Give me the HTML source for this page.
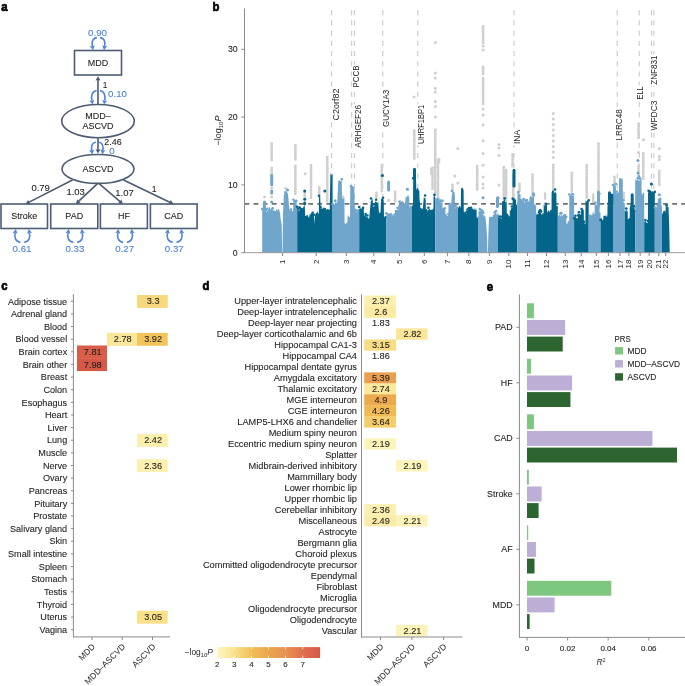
<!DOCTYPE html>
<html><head><meta charset="utf-8"><style>
html,body{margin:0;padding:0;background:#fff;}
svg{display:block;font-family:"Liberation Sans", sans-serif;will-change:transform;}
</style></head><body>
<svg width="685" height="686" viewBox="0 0 685 686">
<rect width="685" height="686" fill="#fff"/>
<text x="1.20" y="11.00" font-size="12.3" text-anchor="start" fill="#000" font-weight="bold" textLength="6.29" lengthAdjust="spacingAndGlyphs" stroke="#000" stroke-width="0.7">a</text>
<text x="212.60" y="11.00" font-size="12.3" text-anchor="start" fill="#000" font-weight="bold" textLength="6.91" lengthAdjust="spacingAndGlyphs" stroke="#000" stroke-width="0.7">b</text>
<text x="1.20" y="290.20" font-size="12.3" text-anchor="start" fill="#000" font-weight="bold" textLength="6.29" lengthAdjust="spacingAndGlyphs" stroke="#000" stroke-width="0.7">c</text>
<text x="202.50" y="290.20" font-size="12.3" text-anchor="start" fill="#000" font-weight="bold" textLength="6.91" lengthAdjust="spacingAndGlyphs" stroke="#000" stroke-width="0.7">d</text>
<text x="486.80" y="291.00" font-size="12.3" text-anchor="start" fill="#000" font-weight="bold" textLength="6.29" lengthAdjust="spacingAndGlyphs" stroke="#000" stroke-width="0.7">e</text>
<rect x="74.5" y="50.5" width="47.0" height="24.5" fill="#fff" stroke="#4d5b73" stroke-width="1.6"/>
<text x="98.00" y="65.85" font-size="8.7" text-anchor="middle" fill="#231f20" font-weight="normal" textLength="20.41" lengthAdjust="spacingAndGlyphs"  stroke="#231f20" stroke-width="0.1">MDD</text>
<path d="M96.90,37.60 C92.90,37.80 91.40,41.97 92.40,46.43" fill="none" stroke="#4f84d6" stroke-width="1.6"/>
<path d="M93.00,50.20 L89.81,46.05 L92.39,46.34 L94.75,45.27 Z" fill="#4f84d6"/>
<path d="M100.10,37.60 C104.10,37.80 105.60,41.97 104.60,46.43" fill="none" stroke="#4f84d6" stroke-width="1.6"/>
<path d="M104.00,50.20 L102.25,45.27 L104.61,46.34 L107.19,46.05 Z" fill="#4f84d6"/>
<text x="97.50" y="35.90" font-size="8.5" text-anchor="middle" fill="#4f84d6" font-weight="normal" textLength="18.86" lengthAdjust="spacingAndGlyphs"  stroke="#4f84d6" stroke-width="0.1">0.90</text>
<ellipse cx="98" cy="121.1" rx="36.3" ry="16.6" fill="#fff" stroke="#4d5b73" stroke-width="1.6"/>
<text x="98.00" y="119.30" font-size="8.7" text-anchor="middle" fill="#231f20" font-weight="normal" textLength="25.39" lengthAdjust="spacingAndGlyphs"  stroke="#231f20" stroke-width="0.1">MDD–</text>
<text x="98.00" y="128.90" font-size="8.7" text-anchor="middle" fill="#231f20" font-weight="normal" textLength="30.87" lengthAdjust="spacingAndGlyphs"  stroke="#231f20" stroke-width="0.1">ASCVD</text>
<line x1="98" y1="104.6" x2="98.00" y2="79.20" stroke="#4d5b73" stroke-width="1.6"/>
<path d="M98.00,76.20 L100.50,80.60 L98.00,79.94 L95.50,80.60 Z" fill="#4d5b73"/>
<text x="102.80" y="87.80" font-size="8.3" text-anchor="start" fill="#231f20" font-weight="normal"  stroke="#231f20" stroke-width="0.1">1</text>
<path d="M96.62,90.71 C92.42,90.93 90.84,95.52 91.89,100.43" fill="none" stroke="#4f84d6" stroke-width="1.6"/>
<path d="M92.52,104.58 L89.36,100.41 L91.94,100.72 L94.31,99.66 Z" fill="#4f84d6"/>
<path d="M99.98,90.71 C104.18,90.93 105.75,95.52 104.70,100.43" fill="none" stroke="#4f84d6" stroke-width="1.6"/>
<path d="M104.08,104.58 L102.29,99.66 L104.66,100.72 L107.24,100.41 Z" fill="#4f84d6"/>
<text x="108.10" y="97.10" font-size="8.5" text-anchor="start" fill="#4f84d6" font-weight="normal" textLength="18.86" lengthAdjust="spacingAndGlyphs"  stroke="#4f84d6" stroke-width="0.1">0.10</text>
<ellipse cx="98" cy="168.95" rx="36" ry="14.45" fill="#fff" stroke="#4d5b73" stroke-width="1.6"/>
<text x="98.00" y="171.90" font-size="8.7" text-anchor="middle" fill="#231f20" font-weight="normal" textLength="30.87" lengthAdjust="spacingAndGlyphs"  stroke="#231f20" stroke-width="0.1">ASCVD</text>
<line x1="98" y1="137.9" x2="98.00" y2="150.60" stroke="#4d5b73" stroke-width="1.6"/>
<path d="M98.00,153.60 L95.50,149.20 L98.00,149.86 L100.50,149.20 Z" fill="#4d5b73"/>
<text x="104.30" y="145.20" font-size="8.9" text-anchor="start" fill="#231f20" font-weight="normal"  stroke="#231f20" stroke-width="0.1">2.46</text>
<path d="M95.86,142.30 C92.26,142.49 90.91,146.49 91.81,150.78" fill="none" stroke="#4f84d6" stroke-width="1.6"/>
<path d="M92.35,154.41 L89.20,150.23 L91.77,150.54 L94.14,149.49 Z" fill="#4f84d6"/>
<path d="M98.74,142.30 C102.34,142.49 103.69,146.49 102.79,150.78" fill="none" stroke="#4f84d6" stroke-width="1.6"/>
<path d="M102.25,154.41 L100.46,149.49 L102.83,150.54 L105.40,150.23 Z" fill="#4f84d6"/>
<text x="109.20" y="153.90" font-size="8.5" text-anchor="start" fill="#4f84d6" font-weight="normal" textLength="5.39" lengthAdjust="spacingAndGlyphs"  stroke="#4f84d6" stroke-width="0.1">0</text>
<rect x="1" y="204" width="46.5" height="24.5" fill="#fff" stroke="#4d5b73" stroke-width="1.6"/>
<text x="24.25" y="219.35" font-size="8.7" text-anchor="middle" fill="#231f20" font-weight="normal" textLength="25.90" lengthAdjust="spacingAndGlyphs"  stroke="#231f20" stroke-width="0.1">Stroke</text>
<rect x="50.7" y="204" width="47.099999999999994" height="24.5" fill="#fff" stroke="#4d5b73" stroke-width="1.6"/>
<text x="74.25" y="219.35" font-size="8.7" text-anchor="middle" fill="#231f20" font-weight="normal" textLength="17.76" lengthAdjust="spacingAndGlyphs"  stroke="#231f20" stroke-width="0.1">PAD</text>
<rect x="100.4" y="204" width="47.0" height="24.5" fill="#fff" stroke="#4d5b73" stroke-width="1.6"/>
<text x="123.90" y="219.35" font-size="8.7" text-anchor="middle" fill="#231f20" font-weight="normal" textLength="11.95" lengthAdjust="spacingAndGlyphs"  stroke="#231f20" stroke-width="0.1">HF</text>
<rect x="150.4" y="204" width="46.69999999999999" height="24.5" fill="#fff" stroke="#4d5b73" stroke-width="1.6"/>
<text x="173.75" y="219.35" font-size="8.7" text-anchor="middle" fill="#231f20" font-weight="normal" textLength="18.92" lengthAdjust="spacingAndGlyphs"  stroke="#231f20" stroke-width="0.1">CAD</text>
<line x1="72.5" y1="180" x2="28.17" y2="202.64" stroke="#4d5b73" stroke-width="1.6"/>
<path d="M25.50,204.00 L28.28,199.77 L28.83,202.30 L30.56,204.23 Z" fill="#4d5b73"/>
<line x1="98" y1="183.2" x2="77.99" y2="201.95" stroke="#4d5b73" stroke-width="1.6"/>
<path d="M75.80,204.00 L77.30,199.17 L78.53,201.44 L80.72,202.82 Z" fill="#4d5b73"/>
<line x1="98.5" y1="183.2" x2="120.71" y2="202.06" stroke="#4d5b73" stroke-width="1.6"/>
<path d="M123.00,204.00 L118.03,203.06 L120.15,201.58 L121.26,199.25 Z" fill="#4d5b73"/>
<line x1="123.5" y1="180" x2="170.80" y2="202.70" stroke="#4d5b73" stroke-width="1.6"/>
<path d="M173.50,204.00 L168.45,204.35 L170.13,202.38 L170.62,199.84 Z" fill="#4d5b73"/>
<text x="31.40" y="190.60" font-size="8.6" text-anchor="start" fill="#231f20" font-weight="normal" textLength="18.41" lengthAdjust="spacingAndGlyphs"  stroke="#231f20" stroke-width="0.1">0.79</text>
<text x="66.40" y="194.70" font-size="8.6" text-anchor="start" fill="#231f20" font-weight="normal" textLength="18.41" lengthAdjust="spacingAndGlyphs"  stroke="#231f20" stroke-width="0.1">1.03</text>
<text x="115.30" y="195.70" font-size="8.6" text-anchor="start" fill="#231f20" font-weight="normal" textLength="18.41" lengthAdjust="spacingAndGlyphs"  stroke="#231f20" stroke-width="0.1">1.07</text>
<text x="151.80" y="191.80" font-size="8.6" text-anchor="start" fill="#231f20" font-weight="normal"  stroke="#231f20" stroke-width="0.1">1</text>
<path d="M20.43,242.20 C15.75,241.99 13.99,237.59 15.16,232.88" fill="none" stroke="#4f84d6" stroke-width="1.6"/>
<path d="M15.87,228.91 L17.53,233.87 L15.19,232.76 L12.60,233.00 Z" fill="#4f84d6"/>
<path d="M24.17,242.20 C28.85,241.99 30.61,237.59 29.44,232.88" fill="none" stroke="#4f84d6" stroke-width="1.6"/>
<path d="M28.73,228.91 L32.00,233.00 L29.41,232.76 L27.07,233.87 Z" fill="#4f84d6"/>
<text x="22.00" y="251.80" font-size="8.5" text-anchor="middle" fill="#4f84d6" font-weight="normal" textLength="18.86" lengthAdjust="spacingAndGlyphs"  stroke="#4f84d6" stroke-width="0.1">0.61</text>
<path d="M73.33,242.20 C68.65,241.99 66.89,237.59 68.06,232.88" fill="none" stroke="#4f84d6" stroke-width="1.6"/>
<path d="M68.77,228.91 L70.43,233.87 L68.09,232.76 L65.50,233.00 Z" fill="#4f84d6"/>
<path d="M77.07,242.20 C81.75,241.99 83.51,237.59 82.34,232.88" fill="none" stroke="#4f84d6" stroke-width="1.6"/>
<path d="M81.64,228.91 L84.90,233.00 L82.31,232.76 L79.97,233.87 Z" fill="#4f84d6"/>
<text x="74.90" y="251.80" font-size="8.5" text-anchor="middle" fill="#4f84d6" font-weight="normal" textLength="18.86" lengthAdjust="spacingAndGlyphs"  stroke="#4f84d6" stroke-width="0.1">0.33</text>
<path d="M123.13,242.20 C118.45,241.99 116.69,237.59 117.86,232.88" fill="none" stroke="#4f84d6" stroke-width="1.6"/>
<path d="M118.56,228.91 L120.23,233.87 L117.89,232.76 L115.30,233.00 Z" fill="#4f84d6"/>
<path d="M126.87,242.20 C131.55,241.99 133.31,237.59 132.14,232.88" fill="none" stroke="#4f84d6" stroke-width="1.6"/>
<path d="M131.44,228.91 L134.70,233.00 L132.11,232.76 L129.77,233.87 Z" fill="#4f84d6"/>
<text x="124.70" y="251.80" font-size="8.5" text-anchor="middle" fill="#4f84d6" font-weight="normal" textLength="18.86" lengthAdjust="spacingAndGlyphs"  stroke="#4f84d6" stroke-width="0.1">0.27</text>
<path d="M172.73,242.20 C168.05,241.99 166.29,237.59 167.46,232.88" fill="none" stroke="#4f84d6" stroke-width="1.6"/>
<path d="M168.16,228.91 L169.83,233.87 L167.49,232.76 L164.90,233.00 Z" fill="#4f84d6"/>
<path d="M176.47,242.20 C181.15,241.99 182.91,237.59 181.74,232.88" fill="none" stroke="#4f84d6" stroke-width="1.6"/>
<path d="M181.03,228.91 L184.30,233.00 L181.71,232.76 L179.37,233.87 Z" fill="#4f84d6"/>
<text x="174.30" y="251.80" font-size="8.5" text-anchor="middle" fill="#4f84d6" font-weight="normal" textLength="18.86" lengthAdjust="spacingAndGlyphs"  stroke="#4f84d6" stroke-width="0.1">0.37</text>
<line x1="331.6" y1="10.2" x2="331.6" y2="252" stroke="#c4c4c4" stroke-width="1" stroke-dasharray="5.1,5.1"/>
<line x1="351.7" y1="10.2" x2="351.7" y2="252" stroke="#c4c4c4" stroke-width="1" stroke-dasharray="5.1,5.1"/>
<line x1="354.4" y1="10.2" x2="354.4" y2="252" stroke="#c4c4c4" stroke-width="1" stroke-dasharray="5.1,5.1"/>
<line x1="382.8" y1="10.2" x2="382.8" y2="252" stroke="#c4c4c4" stroke-width="1" stroke-dasharray="5.1,5.1"/>
<line x1="417.8" y1="10.2" x2="417.8" y2="252" stroke="#c4c4c4" stroke-width="1" stroke-dasharray="5.1,5.1"/>
<line x1="514" y1="10.2" x2="514" y2="252" stroke="#c4c4c4" stroke-width="1" stroke-dasharray="5.1,5.1"/>
<line x1="617.2" y1="10.2" x2="617.2" y2="252" stroke="#c4c4c4" stroke-width="1" stroke-dasharray="5.1,5.1"/>
<line x1="639.2" y1="10.2" x2="639.2" y2="252" stroke="#c4c4c4" stroke-width="1" stroke-dasharray="5.1,5.1"/>
<line x1="651.6" y1="10.2" x2="651.6" y2="252" stroke="#c4c4c4" stroke-width="1" stroke-dasharray="5.1,5.1"/>
<line x1="653.9" y1="10.2" x2="653.9" y2="252" stroke="#c4c4c4" stroke-width="1" stroke-dasharray="5.1,5.1"/>
<line x1="244.5" y1="203.8" x2="685" y2="203.8" stroke="#707070" stroke-width="1.8" stroke-dasharray="4.8,4.3"/>
<line x1="264.5" y1="197" x2="264.5" y2="199" stroke="#cfcfcf" stroke-width="2.9" stroke-linecap="round" stroke-dasharray="0.01 2.3"/>
<line x1="271.7" y1="143.7" x2="271.7" y2="162" stroke="#cfcfcf" stroke-width="2.9" stroke-linecap="round" stroke-dasharray="0.01 2.3"/>
<line x1="271.7" y1="168" x2="271.7" y2="175" stroke="#cfcfcf" stroke-width="2.9" stroke-linecap="round" stroke-dasharray="0.01 2.3"/>
<line x1="295.4" y1="145.5" x2="295.4" y2="160" stroke="#cfcfcf" stroke-width="2.9" stroke-linecap="round" stroke-dasharray="0.01 2.3"/>
<line x1="295.4" y1="166" x2="295.4" y2="193.8" stroke="#cfcfcf" stroke-width="2.9" stroke-linecap="round" stroke-dasharray="0.01 2.3"/>
<line x1="304.7" y1="192.9" x2="304.7" y2="199.2" stroke="#cfcfcf" stroke-width="2.9" stroke-linecap="round" stroke-dasharray="0.01 2.3"/>
<line x1="311" y1="165.5" x2="311" y2="199.2" stroke="#cfcfcf" stroke-width="2.9" stroke-linecap="round" stroke-dasharray="0.01 2.3"/>
<line x1="319.3" y1="187.4" x2="319.3" y2="194.7" stroke="#cfcfcf" stroke-width="2.9" stroke-linecap="round" stroke-dasharray="0.01 2.3"/>
<line x1="327.3" y1="157.3" x2="327.3" y2="202.9" stroke="#cfcfcf" stroke-width="2.9" stroke-linecap="round" stroke-dasharray="0.01 2.3"/>
<line x1="335" y1="201" x2="335" y2="203" stroke="#cfcfcf" stroke-width="2.9" stroke-linecap="round" stroke-dasharray="0.01 2.3"/>
<line x1="343" y1="197" x2="343" y2="200" stroke="#cfcfcf" stroke-width="2.9" stroke-linecap="round" stroke-dasharray="0.01 2.3"/>
<line x1="352" y1="189" x2="352" y2="197" stroke="#cfcfcf" stroke-width="2.9" stroke-linecap="round" stroke-dasharray="0.01 2.3"/>
<line x1="376.4" y1="192.9" x2="376.4" y2="198.3" stroke="#cfcfcf" stroke-width="2.9" stroke-linecap="round" stroke-dasharray="0.01 2.3"/>
<line x1="381.8" y1="165.5" x2="381.8" y2="192" stroke="#cfcfcf" stroke-width="2.9" stroke-linecap="round" stroke-dasharray="0.01 2.3"/>
<line x1="395.1" y1="192" x2="395.1" y2="202" stroke="#cfcfcf" stroke-width="2.9" stroke-linecap="round" stroke-dasharray="0.01 2.3"/>
<line x1="414.3" y1="130.8" x2="414.3" y2="159.4" stroke="#cfcfcf" stroke-width="2.9" stroke-linecap="round" stroke-dasharray="0.01 2.3"/>
<line x1="435.3" y1="130" x2="435.3" y2="196.8" stroke="#cfcfcf" stroke-width="2.9" stroke-linecap="round" stroke-dasharray="0.01 2.3"/>
<line x1="438" y1="160" x2="438" y2="200" stroke="#cfcfcf" stroke-width="2.9" stroke-linecap="round" stroke-dasharray="0.01 2.3"/>
<line x1="432.5" y1="168" x2="432.5" y2="190" stroke="#cfcfcf" stroke-width="2.9" stroke-linecap="round" stroke-dasharray="0.01 2.3"/>
<line x1="431.3" y1="169" x2="431.3" y2="174" stroke="#cfcfcf" stroke-width="2.9" stroke-linecap="round" stroke-dasharray="0.01 2.3"/>
<line x1="439.1" y1="159.4" x2="439.1" y2="162.3" stroke="#cfcfcf" stroke-width="2.9" stroke-linecap="round" stroke-dasharray="0.01 2.3"/>
<line x1="452.5" y1="185" x2="452.5" y2="190" stroke="#cfcfcf" stroke-width="2.9" stroke-linecap="round" stroke-dasharray="0.01 2.3"/>
<line x1="477.2" y1="166.3" x2="477.2" y2="190.9" stroke="#cfcfcf" stroke-width="2.9" stroke-linecap="round" stroke-dasharray="0.01 2.3"/>
<line x1="483.1" y1="26.5" x2="483.1" y2="43" stroke="#cfcfcf" stroke-width="2.9" stroke-linecap="round" stroke-dasharray="0.01 2.3"/>
<line x1="483.1" y1="67" x2="483.1" y2="75" stroke="#cfcfcf" stroke-width="2.9" stroke-linecap="round" stroke-dasharray="0.01 2.3"/>
<line x1="483.1" y1="78.5" x2="483.1" y2="105" stroke="#cfcfcf" stroke-width="2.9" stroke-linecap="round" stroke-dasharray="0.01 2.3"/>
<line x1="503.8" y1="167.2" x2="503.8" y2="199.7" stroke="#cfcfcf" stroke-width="2.9" stroke-linecap="round" stroke-dasharray="0.01 2.3"/>
<line x1="506.1" y1="170.2" x2="506.1" y2="200.7" stroke="#cfcfcf" stroke-width="2.9" stroke-linecap="round" stroke-dasharray="0.01 2.3"/>
<line x1="512.6" y1="154.4" x2="512.6" y2="168.2" stroke="#cfcfcf" stroke-width="2.9" stroke-linecap="round" stroke-dasharray="0.01 2.3"/>
<line x1="513.2" y1="175" x2="513.2" y2="198" stroke="#cfcfcf" stroke-width="2.9" stroke-linecap="round" stroke-dasharray="0.01 2.3"/>
<line x1="519.5" y1="184" x2="519.5" y2="192.8" stroke="#cfcfcf" stroke-width="2.9" stroke-linecap="round" stroke-dasharray="0.01 2.3"/>
<line x1="532.5" y1="174.6" x2="532.5" y2="204.6" stroke="#cfcfcf" stroke-width="2.9" stroke-linecap="round" stroke-dasharray="0.01 2.3"/>
<line x1="545.1" y1="193.8" x2="545.1" y2="200.5" stroke="#cfcfcf" stroke-width="2.9" stroke-linecap="round" stroke-dasharray="0.01 2.3"/>
<line x1="553.3" y1="165" x2="553.3" y2="192.6" stroke="#cfcfcf" stroke-width="2.9" stroke-linecap="round" stroke-dasharray="0.01 2.3"/>
<line x1="571.8" y1="173" x2="571.8" y2="193.8" stroke="#cfcfcf" stroke-width="2.9" stroke-linecap="round" stroke-dasharray="0.01 2.3"/>
<line x1="586.7" y1="165.3" x2="586.7" y2="198.7" stroke="#cfcfcf" stroke-width="2.9" stroke-linecap="round" stroke-dasharray="0.01 2.3"/>
<line x1="593.2" y1="194.8" x2="593.2" y2="202.7" stroke="#cfcfcf" stroke-width="2.9" stroke-linecap="round" stroke-dasharray="0.01 2.3"/>
<line x1="598.5" y1="143.6" x2="598.5" y2="190.9" stroke="#cfcfcf" stroke-width="2.9" stroke-linecap="round" stroke-dasharray="0.01 2.3"/>
<line x1="614.5" y1="177" x2="614.5" y2="185" stroke="#cfcfcf" stroke-width="2.9" stroke-linecap="round" stroke-dasharray="0.01 2.3"/>
<line x1="623.8" y1="193" x2="623.8" y2="199" stroke="#cfcfcf" stroke-width="2.9" stroke-linecap="round" stroke-dasharray="0.01 2.3"/>
<line x1="638.5" y1="124" x2="638.5" y2="139" stroke="#cfcfcf" stroke-width="2.9" stroke-linecap="round" stroke-dasharray="0.01 2.3"/>
<line x1="638.5" y1="166" x2="638.5" y2="178" stroke="#cfcfcf" stroke-width="2.9" stroke-linecap="round" stroke-dasharray="0.01 2.3"/>
<line x1="643.3" y1="153.5" x2="643.3" y2="181" stroke="#cfcfcf" stroke-width="2.9" stroke-linecap="round" stroke-dasharray="0.01 2.3"/>
<line x1="659.3" y1="171" x2="659.3" y2="187" stroke="#cfcfcf" stroke-width="2.9" stroke-linecap="round" stroke-dasharray="0.01 2.3"/>
<circle cx="271.7" cy="188" r="1.5" fill="#cfcfcf"/>
<circle cx="271.7" cy="197" r="1.5" fill="#cfcfcf"/>
<circle cx="285.5" cy="188.3" r="1.5" fill="#cfcfcf"/>
<circle cx="305.1" cy="173.7" r="1.5" fill="#cfcfcf"/>
<circle cx="388.6" cy="200.2" r="1.5" fill="#cfcfcf"/>
<circle cx="414" cy="97" r="1.5" fill="#cfcfcf"/>
<circle cx="435.3" cy="42.4" r="1.5" fill="#cfcfcf"/>
<circle cx="435.3" cy="73" r="1.5" fill="#cfcfcf"/>
<circle cx="435.3" cy="78.1" r="1.5" fill="#cfcfcf"/>
<circle cx="435.3" cy="88.3" r="1.5" fill="#cfcfcf"/>
<circle cx="435.3" cy="92" r="1.5" fill="#cfcfcf"/>
<circle cx="435.3" cy="101.4" r="1.5" fill="#cfcfcf"/>
<circle cx="435.3" cy="106.5" r="1.5" fill="#cfcfcf"/>
<circle cx="435.3" cy="117" r="1.5" fill="#cfcfcf"/>
<circle cx="454.9" cy="176" r="1.5" fill="#cfcfcf"/>
<circle cx="457.9" cy="148.5" r="1.5" fill="#cfcfcf"/>
<circle cx="457.9" cy="183" r="1.5" fill="#cfcfcf"/>
<circle cx="483.1" cy="46" r="1.5" fill="#cfcfcf"/>
<circle cx="483.1" cy="50" r="1.5" fill="#cfcfcf"/>
<circle cx="483.1" cy="109" r="1.5" fill="#cfcfcf"/>
<circle cx="483.1" cy="115" r="1.5" fill="#cfcfcf"/>
<circle cx="483.1" cy="125" r="1.5" fill="#cfcfcf"/>
<circle cx="483.1" cy="140.7" r="1.5" fill="#cfcfcf"/>
<circle cx="483.1" cy="153.5" r="1.5" fill="#cfcfcf"/>
<circle cx="483.1" cy="165.3" r="1.5" fill="#cfcfcf"/>
<circle cx="483.1" cy="177" r="1.5" fill="#cfcfcf"/>
<circle cx="483.1" cy="184" r="1.5" fill="#cfcfcf"/>
<circle cx="483.1" cy="188" r="1.5" fill="#cfcfcf"/>
<circle cx="498.9" cy="144.6" r="1.5" fill="#cfcfcf"/>
<circle cx="498.9" cy="148" r="1.5" fill="#cfcfcf"/>
<circle cx="498.9" cy="155.4" r="1.5" fill="#cfcfcf"/>
<circle cx="498.9" cy="185" r="1.5" fill="#cfcfcf"/>
<circle cx="498.9" cy="197.8" r="1.5" fill="#cfcfcf"/>
<circle cx="643.5" cy="139.7" r="1.5" fill="#cfcfcf"/>
<circle cx="638.5" cy="152.6" r="1.5" fill="#cfcfcf"/>
<circle cx="659.3" cy="148.5" r="1.5" fill="#cfcfcf"/>
<circle cx="659.3" cy="156.4" r="1.5" fill="#cfcfcf"/>
<circle cx="659.3" cy="159.4" r="1.5" fill="#cfcfcf"/>
<circle cx="553.3" cy="113.6" r="1.5" fill="#cfcfcf"/>
<circle cx="553.3" cy="119.1" r="1.5" fill="#cfcfcf"/>
<circle cx="553.3" cy="124.6" r="1.5" fill="#cfcfcf"/>
<circle cx="553.3" cy="130.1" r="1.5" fill="#cfcfcf"/>
<circle cx="553.3" cy="135.6" r="1.5" fill="#cfcfcf"/>
<circle cx="553.3" cy="141.1" r="1.5" fill="#cfcfcf"/>
<circle cx="553.3" cy="146.6" r="1.5" fill="#cfcfcf"/>
<circle cx="553.3" cy="152.1" r="1.5" fill="#cfcfcf"/>
<circle cx="553.3" cy="157.6" r="1.5" fill="#cfcfcf"/>
<path d="M262.20,252.7 L262.20,210.90 L263.00,208.31 L263.60,210.61 L264.20,209.25 L264.80,211.42 L265.40,211.44 L266.00,211.00 L266.67,212.19 L267.33,210.26 L268.00,211.27 L269.00,207.04 L269.62,207.23 L270.25,208.49 L270.88,209.99 L271.50,207.72 L272.12,208.18 L272.75,209.68 L273.38,210.90 L274.00,209.76 L275.00,211.15 L276.00,211.12 L276.60,208.16 L277.20,211.12 L277.80,209.38 L278.40,209.09 L279.00,209.20 L280.00,212.85 L280.85,220.47 L281.70,224.21 L282.10,252.70 L282.50,252.70 L283.00,212.78 L284.00,193.97 L284.67,193.07 L285.33,193.66 L286.00,192.01 L286.67,192.00 L287.33,192.50 L288.00,194.11 L288.80,203.25 L289.50,209.87 L290.20,210.79 L290.90,210.34 L291.60,209.82 L292.30,211.50 L293.00,211.18 L293.50,200.63 L294.20,201.75 L294.90,201.59 L295.60,202.78 L296.30,202.28 L297.20,208.00 L297.20,252.7 Z" fill="#70a5cc"/>
<circle cx="262.20" cy="208.94" r="1.3" fill="#70a5cc"/>
<circle cx="263.60" cy="209.78" r="1.3" fill="#70a5cc"/>
<circle cx="266.00" cy="210.02" r="1.3" fill="#70a5cc"/>
<circle cx="267.33" cy="208.92" r="1.3" fill="#70a5cc"/>
<circle cx="272.75" cy="208.29" r="1.3" fill="#70a5cc"/>
<circle cx="285.33" cy="192.26" r="1.3" fill="#70a5cc"/>
<circle cx="290.90" cy="209.57" r="1.3" fill="#70a5cc"/>
<circle cx="293.50" cy="199.71" r="1.3" fill="#70a5cc"/>
<circle cx="294.90" cy="201.35" r="1.3" fill="#70a5cc"/>
<circle cx="296.30" cy="200.74" r="1.3" fill="#70a5cc"/>
<path d="M297.20,252.7 L297.20,207.24 L297.80,208.19 L298.40,209.23 L299.00,211.41 L299.60,209.27 L300.50,206.83 L301.12,207.17 L301.73,208.30 L302.35,208.09 L302.97,208.24 L303.58,206.25 L304.20,206.71 L304.70,203.02 L305.20,217.41 L305.90,217.66 L306.60,214.91 L307.30,215.00 L308.00,215.19 L308.80,218.89 L309.70,214.25 L310.31,214.60 L310.93,213.49 L311.54,212.61 L312.16,214.02 L312.77,213.86 L313.39,214.53 L314.00,215.84 L314.20,224.15 L315.00,215.55 L316.00,212.90 L316.70,213.10 L317.40,210.98 L318.10,213.86 L318.80,213.45 L319.00,196.47 L320.20,196.21 L320.60,208.53 L321.32,208.56 L322.04,207.55 L322.76,209.36 L323.48,207.41 L324.20,207.43 L325.00,209.71 L325.67,209.55 L326.34,210.16 L327.01,209.18 L327.69,209.00 L328.36,209.51 L329.03,209.34 L329.70,210.24 L330.40,172.59 L331.13,175.47 L331.87,174.59 L332.60,173.70 L332.60,252.7 Z" fill="#04658a"/>
<circle cx="297.20" cy="206.74" r="1.3" fill="#04658a"/>
<circle cx="298.40" cy="208.50" r="1.3" fill="#04658a"/>
<circle cx="299.60" cy="207.58" r="1.3" fill="#04658a"/>
<circle cx="304.70" cy="202.82" r="1.3" fill="#04658a"/>
<circle cx="305.90" cy="217.13" r="1.3" fill="#04658a"/>
<circle cx="308.80" cy="218.85" r="1.3" fill="#04658a"/>
<circle cx="312.77" cy="212.77" r="1.3" fill="#04658a"/>
<circle cx="314.00" cy="214.78" r="1.3" fill="#04658a"/>
<circle cx="319.00" cy="195.74" r="1.3" fill="#04658a"/>
<circle cx="320.60" cy="206.99" r="1.3" fill="#04658a"/>
<circle cx="325.00" cy="209.26" r="1.3" fill="#04658a"/>
<path d="M332.60,252.7 L332.60,206.02 L333.27,204.01 L333.94,204.75 L334.61,203.94 L335.29,202.57 L335.96,202.31 L336.63,202.91 L337.30,202.58 L338.20,180.35 L338.80,181.25 L339.40,179.52 L340.00,181.19 L340.60,181.36 L341.20,181.25 L341.80,179.24 L342.00,198.55 L342.80,198.57 L343.60,198.47 L344.40,198.49 L344.60,222.92 L345.28,223.86 L345.95,223.66 L346.62,222.43 L347.30,223.02 L347.50,217.12 L348.12,214.69 L348.75,216.65 L349.38,217.49 L350.00,217.06 L350.30,187.85 L350.98,186.93 L351.67,185.91 L352.35,187.98 L353.03,186.43 L353.72,188.02 L354.40,188.60 L354.60,210.35 L355.32,210.36 L356.04,212.22 L356.76,211.46 L357.48,209.58 L358.20,209.43 L359.20,208.00 L359.20,252.7 Z" fill="#70a5cc"/>
<circle cx="332.60" cy="204.21" r="1.3" fill="#70a5cc"/>
<circle cx="335.29" cy="200.92" r="1.3" fill="#70a5cc"/>
<circle cx="341.80" cy="179.21" r="1.3" fill="#70a5cc"/>
<circle cx="350.98" cy="186.42" r="1.3" fill="#70a5cc"/>
<circle cx="352.35" cy="187.50" r="1.3" fill="#70a5cc"/>
<circle cx="354.60" cy="209.51" r="1.3" fill="#70a5cc"/>
<circle cx="356.04" cy="210.40" r="1.3" fill="#70a5cc"/>
<path d="M359.20,252.7 L359.20,208.18 L359.84,209.27 L360.49,207.63 L361.13,209.32 L361.77,207.91 L362.41,208.01 L363.06,207.98 L363.70,206.26 L364.00,215.90 L364.80,215.02 L365.60,214.41 L366.40,217.12 L367.40,216.89 L368.00,217.91 L368.60,218.77 L369.20,218.19 L369.80,211.31 L370.40,205.86 L371.00,199.89 L371.85,200.67 L372.70,198.36 L373.00,207.21 L373.80,206.14 L374.60,206.24 L374.80,202.43 L375.48,201.53 L376.16,201.71 L376.84,202.38 L377.52,202.90 L378.20,201.31 L379.00,212.88 L379.75,212.52 L380.50,212.54 L381.00,199.46 L381.68,198.64 L382.35,198.91 L383.02,198.73 L383.70,200.30 L384.00,216.78 L384.80,217.38 L385.60,217.60 L386.40,215.60 L386.40,252.7 Z" fill="#04658a"/>
<circle cx="359.20" cy="207.06" r="1.3" fill="#04658a"/>
<circle cx="363.06" cy="207.74" r="1.3" fill="#04658a"/>
<circle cx="365.60" cy="213.93" r="1.3" fill="#04658a"/>
<circle cx="367.40" cy="215.55" r="1.3" fill="#04658a"/>
<circle cx="371.00" cy="198.46" r="1.3" fill="#04658a"/>
<circle cx="373.80" cy="204.38" r="1.3" fill="#04658a"/>
<circle cx="376.16" cy="199.80" r="1.3" fill="#04658a"/>
<circle cx="383.02" cy="197.86" r="1.3" fill="#04658a"/>
<circle cx="385.60" cy="217.21" r="1.3" fill="#04658a"/>
<path d="M386.40,252.7 L386.40,213.68 L387.00,215.06 L387.60,212.67 L388.20,214.48 L388.40,215.00 L389.10,213.56 L389.80,214.63 L390.50,215.62 L391.20,215.24 L391.90,213.72 L392.00,217.75 L392.65,217.08 L393.30,217.70 L393.95,214.76 L394.60,215.30 L395.50,209.13 L396.18,211.65 L396.85,209.92 L397.52,209.44 L398.20,210.44 L398.40,204.80 L399.03,204.48 L399.65,202.58 L400.28,202.21 L400.91,204.83 L401.54,203.64 L402.16,204.08 L402.79,202.00 L403.42,201.90 L404.05,204.04 L404.67,203.15 L405.30,201.95 L405.50,197.59 L406.12,196.56 L406.73,197.13 L407.35,194.68 L407.97,197.31 L408.58,194.63 L409.20,197.33 L409.40,206.84 L410.05,206.45 L410.70,207.18 L411.35,208.45 L412.00,206.50 L412.00,252.7 Z" fill="#70a5cc"/>
<circle cx="386.40" cy="213.42" r="1.3" fill="#70a5cc"/>
<circle cx="388.40" cy="214.78" r="1.3" fill="#70a5cc"/>
<circle cx="389.80" cy="214.53" r="1.3" fill="#70a5cc"/>
<circle cx="391.20" cy="214.62" r="1.3" fill="#70a5cc"/>
<circle cx="392.00" cy="216.23" r="1.3" fill="#70a5cc"/>
<circle cx="393.30" cy="216.70" r="1.3" fill="#70a5cc"/>
<circle cx="394.60" cy="214.61" r="1.3" fill="#70a5cc"/>
<circle cx="396.18" cy="211.15" r="1.3" fill="#70a5cc"/>
<circle cx="397.52" cy="207.97" r="1.3" fill="#70a5cc"/>
<circle cx="399.65" cy="201.63" r="1.3" fill="#70a5cc"/>
<circle cx="402.16" cy="202.44" r="1.3" fill="#70a5cc"/>
<circle cx="411.35" cy="206.79" r="1.3" fill="#70a5cc"/>
<path d="M412.00,252.7 L412.00,205.80 L413.00,205.56 L413.20,178.18 L413.90,177.98 L414.60,176.98 L415.30,177.24 L416.00,177.04 L416.30,190.22 L416.90,188.57 L417.50,188.26 L418.10,187.99 L418.70,190.56 L419.30,190.66 L419.50,199.08 L420.50,208.36 L421.27,208.22 L422.03,208.40 L422.80,208.96 L423.80,197.14 L424.43,198.12 L425.07,197.50 L425.70,199.87 L425.90,211.71 L426.52,210.26 L427.15,209.23 L427.77,211.68 L428.40,209.45 L429.02,209.61 L429.65,208.40 L430.27,209.70 L430.90,210.01 L431.52,210.11 L432.15,209.08 L432.77,210.12 L433.40,208.42 L433.60,196.50 L434.40,195.91 L435.20,196.80 L435.20,252.7 Z" fill="#04658a"/>
<circle cx="413.20" cy="178.13" r="1.3" fill="#04658a"/>
<circle cx="414.60" cy="176.52" r="1.3" fill="#04658a"/>
<circle cx="425.07" cy="195.53" r="1.3" fill="#04658a"/>
<circle cx="425.90" cy="210.26" r="1.3" fill="#04658a"/>
<circle cx="428.40" cy="207.78" r="1.3" fill="#04658a"/>
<circle cx="434.40" cy="194.86" r="1.3" fill="#04658a"/>
<path d="M435.20,252.7 L435.20,197.31 L435.81,198.44 L436.43,198.34 L437.04,198.41 L437.66,197.59 L438.27,198.64 L438.89,197.92 L439.50,197.96 L439.60,202.28 L440.33,201.61 L441.05,201.95 L441.77,202.73 L442.50,201.86 L442.60,210.24 L443.30,209.30 L444.00,209.53 L444.70,209.53 L445.40,209.71 L445.50,214.96 L446.23,213.31 L446.95,216.01 L447.67,215.84 L448.40,215.01 L448.50,203.32 L449.20,203.74 L449.90,201.72 L450.60,204.01 L451.30,202.36 L452.00,192.85 L452.73,193.50 L453.45,195.08 L454.17,193.30 L454.90,195.12 L455.00,208.72 L455.73,207.08 L456.45,206.70 L457.17,207.03 L457.90,206.60 L457.90,252.7 Z" fill="#70a5cc"/>
<circle cx="439.60" cy="201.99" r="1.3" fill="#70a5cc"/>
<circle cx="441.05" cy="200.47" r="1.3" fill="#70a5cc"/>
<circle cx="442.50" cy="200.72" r="1.3" fill="#70a5cc"/>
<circle cx="443.30" cy="209.18" r="1.3" fill="#70a5cc"/>
<circle cx="444.70" cy="208.19" r="1.3" fill="#70a5cc"/>
<circle cx="448.40" cy="213.98" r="1.3" fill="#70a5cc"/>
<circle cx="452.00" cy="191.07" r="1.3" fill="#70a5cc"/>
<circle cx="453.45" cy="193.12" r="1.3" fill="#70a5cc"/>
<circle cx="455.73" cy="206.16" r="1.3" fill="#70a5cc"/>
<path d="M457.90,252.7 L457.90,208.69 L458.62,206.93 L459.35,206.31 L460.07,206.11 L460.80,208.61 L461.00,187.42 L461.65,188.68 L462.30,187.18 L462.95,188.48 L463.60,189.94 L463.80,211.75 L464.52,214.09 L465.25,213.03 L465.98,214.32 L466.70,213.69 L466.80,209.19 L467.52,211.45 L468.25,210.05 L468.98,208.48 L469.70,208.41 L469.80,209.07 L470.42,208.93 L471.04,208.43 L471.65,207.88 L472.27,208.57 L472.89,208.47 L473.51,210.26 L474.13,207.41 L474.75,209.95 L475.36,210.25 L475.98,207.81 L476.60,210.55 L476.70,217.72 L477.30,218.37 L477.90,216.29 L478.50,216.50 L478.50,252.7 Z" fill="#04658a"/>
<circle cx="465.25" cy="212.93" r="1.3" fill="#04658a"/>
<circle cx="466.70" cy="212.02" r="1.3" fill="#04658a"/>
<circle cx="467.52" cy="209.58" r="1.3" fill="#04658a"/>
<circle cx="468.98" cy="207.95" r="1.3" fill="#04658a"/>
<circle cx="471.04" cy="207.68" r="1.3" fill="#04658a"/>
<path d="M478.50,252.7 L478.50,211.17 L479.17,211.75 L479.83,209.47 L480.50,211.79 L481.17,210.83 L481.83,211.86 L482.50,211.49 L482.60,214.27 L483.30,213.84 L484.00,217.20 L484.70,214.86 L485.40,216.41 L486.50,227.97 L487.20,239.81 L487.40,252.70 L487.90,252.70 L488.30,236.31 L489.00,218.12 L490.00,216.18 L490.67,217.53 L491.33,216.32 L492.00,217.19 L492.67,216.64 L493.33,215.87 L494.00,215.85 L494.10,212.01 L494.73,214.38 L495.37,212.99 L496.00,212.05 L496.63,214.38 L497.27,214.69 L497.90,212.50 L497.90,252.7 Z" fill="#70a5cc"/>
<circle cx="479.83" cy="209.08" r="1.3" fill="#70a5cc"/>
<circle cx="481.17" cy="210.15" r="1.3" fill="#70a5cc"/>
<circle cx="482.50" cy="211.01" r="1.3" fill="#70a5cc"/>
<circle cx="483.30" cy="212.70" r="1.3" fill="#70a5cc"/>
<circle cx="494.00" cy="215.73" r="1.3" fill="#70a5cc"/>
<circle cx="494.73" cy="212.44" r="1.3" fill="#70a5cc"/>
<circle cx="496.00" cy="211.04" r="1.3" fill="#70a5cc"/>
<path d="M497.90,252.7 L497.90,211.73 L498.90,217.93 L499.62,218.12 L500.35,218.04 L501.07,218.56 L501.80,218.72 L502.00,202.74 L502.67,202.39 L503.34,202.47 L504.01,199.57 L504.69,199.61 L505.36,201.91 L506.03,202.55 L506.70,201.11 L506.80,215.30 L507.52,213.30 L508.25,214.63 L508.98,216.45 L509.70,216.11 L509.80,210.31 L510.50,210.71 L511.20,208.24 L511.90,207.77 L512.60,207.92 L512.70,199.28 L513.36,199.82 L514.02,200.70 L514.68,199.95 L515.34,199.70 L516.00,200.10 L516.10,204.95 L517.20,204.60 L517.20,252.7 Z" fill="#04658a"/>
<circle cx="499.62" cy="216.56" r="1.3" fill="#04658a"/>
<circle cx="501.07" cy="216.72" r="1.3" fill="#04658a"/>
<circle cx="503.34" cy="202.21" r="1.3" fill="#04658a"/>
<circle cx="504.69" cy="198.34" r="1.3" fill="#04658a"/>
<circle cx="506.80" cy="215.16" r="1.3" fill="#04658a"/>
<circle cx="511.90" cy="206.57" r="1.3" fill="#04658a"/>
<circle cx="512.70" cy="198.67" r="1.3" fill="#04658a"/>
<path d="M517.20,252.7 L517.20,205.80 L517.60,193.22 L518.33,192.40 L519.05,192.44 L519.77,194.87 L520.50,194.00 L520.60,199.35 L521.33,198.37 L522.05,199.99 L522.77,200.59 L523.50,199.73 L523.60,200.67 L524.24,202.07 L524.89,202.95 L525.53,200.57 L526.18,199.92 L526.82,200.95 L527.47,201.23 L528.11,202.12 L528.76,200.47 L529.40,202.51 L529.50,197.31 L530.14,196.52 L530.79,195.50 L531.43,198.10 L532.07,195.86 L532.71,197.59 L533.36,195.58 L534.00,195.55 L534.10,205.39 L534.77,203.80 L535.43,206.04 L536.10,204.00 L536.10,252.7 Z" fill="#70a5cc"/>
<circle cx="518.33" cy="191.95" r="1.3" fill="#70a5cc"/>
<circle cx="523.50" cy="198.94" r="1.3" fill="#70a5cc"/>
<circle cx="524.24" cy="200.12" r="1.3" fill="#70a5cc"/>
<circle cx="525.53" cy="200.47" r="1.3" fill="#70a5cc"/>
<circle cx="526.82" cy="200.16" r="1.3" fill="#70a5cc"/>
<circle cx="534.00" cy="195.18" r="1.3" fill="#70a5cc"/>
<path d="M536.10,252.7 L536.10,212.91 L536.83,215.06 L537.55,214.09 L538.27,214.07 L539.00,213.93 L539.10,212.38 L539.74,211.81 L540.39,212.75 L541.03,212.99 L541.67,215.05 L542.31,212.22 L542.96,215.08 L543.60,212.51 L543.70,204.01 L544.36,205.59 L545.02,205.59 L545.68,204.27 L546.34,202.97 L547.00,204.41 L547.10,210.77 L547.73,212.63 L548.36,210.16 L548.99,210.74 L549.61,212.55 L550.24,209.60 L550.87,210.90 L551.50,212.26 L551.60,192.91 L552.29,190.44 L552.97,190.42 L553.66,190.51 L554.34,193.43 L555.03,191.17 L555.71,192.84 L556.40,193.36 L556.50,206.15 L557.15,205.93 L557.80,206.20 L557.80,252.7 Z" fill="#04658a"/>
<circle cx="539.00" cy="212.49" r="1.3" fill="#04658a"/>
<circle cx="539.74" cy="211.26" r="1.3" fill="#04658a"/>
<circle cx="541.03" cy="211.48" r="1.3" fill="#04658a"/>
<circle cx="545.68" cy="203.80" r="1.3" fill="#04658a"/>
<circle cx="551.50" cy="211.40" r="1.3" fill="#04658a"/>
<circle cx="555.03" cy="189.57" r="1.3" fill="#04658a"/>
<path d="M557.80,252.7 L557.80,216.63 L558.40,216.06 L559.00,215.11 L559.60,215.09 L560.20,215.23 L560.80,216.66 L561.40,214.27 L562.00,214.67 L562.60,216.56 L563.20,214.84 L563.80,214.22 L564.40,214.12 L565.00,215.88 L565.60,215.11 L566.20,217.33 L566.50,223.80 L567.17,224.16 L567.85,221.70 L568.53,221.09 L569.20,221.13 L569.30,195.29 L569.90,196.01 L570.50,195.12 L571.10,194.40 L571.70,195.02 L572.30,195.71 L572.90,195.89 L573.50,196.14 L574.10,194.80 L574.10,252.7 Z" fill="#70a5cc"/>
<circle cx="560.20" cy="213.55" r="1.3" fill="#70a5cc"/>
<circle cx="561.40" cy="213.13" r="1.3" fill="#70a5cc"/>
<circle cx="565.00" cy="215.38" r="1.3" fill="#70a5cc"/>
<circle cx="566.20" cy="217.03" r="1.3" fill="#70a5cc"/>
<circle cx="569.30" cy="194.50" r="1.3" fill="#70a5cc"/>
<circle cx="572.90" cy="194.28" r="1.3" fill="#70a5cc"/>
<path d="M574.10,252.7 L574.10,218.67 L574.79,215.65 L575.47,216.91 L576.16,218.08 L576.84,218.16 L577.53,218.41 L578.21,215.44 L578.90,216.30 L579.00,213.71 L579.90,213.94 L580.80,216.61 L580.90,209.38 L581.62,210.56 L582.35,208.67 L583.07,210.34 L583.80,208.93 L583.90,222.08 L584.65,223.84 L585.40,224.42 L585.50,199.86 L586.14,201.53 L586.78,201.61 L587.42,200.24 L588.06,200.75 L588.70,200.70 L588.70,252.7 Z" fill="#04658a"/>
<circle cx="574.10" cy="218.26" r="1.3" fill="#04658a"/>
<circle cx="575.47" cy="215.72" r="1.3" fill="#04658a"/>
<circle cx="578.21" cy="215.41" r="1.3" fill="#04658a"/>
<circle cx="579.00" cy="212.35" r="1.3" fill="#04658a"/>
<circle cx="580.80" cy="215.98" r="1.3" fill="#04658a"/>
<circle cx="581.62" cy="208.97" r="1.3" fill="#04658a"/>
<circle cx="583.90" cy="221.88" r="1.3" fill="#04658a"/>
<circle cx="588.70" cy="200.37" r="1.3" fill="#04658a"/>
<path d="M588.70,252.7 L588.70,215.66 L589.35,214.69 L590.00,214.26 L590.65,214.35 L591.30,216.54 L591.95,214.36 L592.60,215.23 L592.70,212.01 L593.33,212.22 L593.97,213.74 L594.60,214.19 L594.70,204.64 L595.43,204.07 L596.15,205.88 L596.88,204.09 L597.60,203.42 L597.70,194.67 L598.60,193.04 L599.50,194.39 L599.60,212.68 L600.50,212.50 L600.50,252.7 Z" fill="#70a5cc"/>
<circle cx="591.30" cy="216.51" r="1.3" fill="#70a5cc"/>
<circle cx="595.43" cy="202.83" r="1.3" fill="#70a5cc"/>
<circle cx="599.50" cy="193.82" r="1.3" fill="#70a5cc"/>
<path d="M600.50,252.7 L600.50,220.35 L601.10,217.57 L601.70,218.87 L602.30,219.94 L602.90,220.49 L603.50,217.87 L603.60,214.73 L604.23,217.51 L604.87,217.62 L605.50,215.94 L606.13,214.48 L606.77,217.45 L607.40,215.62 L607.50,205.87 L608.11,204.91 L608.72,205.60 L609.33,203.34 L609.94,205.47 L610.56,203.56 L611.17,204.18 L611.78,205.68 L612.39,205.62 L613.00,204.00 L613.00,252.7 Z" fill="#04658a"/>
<circle cx="600.50" cy="219.91" r="1.3" fill="#04658a"/>
<circle cx="604.87" cy="217.12" r="1.3" fill="#04658a"/>
<circle cx="608.11" cy="203.78" r="1.3" fill="#04658a"/>
<circle cx="610.56" cy="201.88" r="1.3" fill="#04658a"/>
<circle cx="611.78" cy="204.48" r="1.3" fill="#04658a"/>
<path d="M613.00,252.7 L613.00,185.93 L613.73,184.84 L614.45,185.23 L615.17,185.78 L615.90,185.25 L616.00,193.84 L616.73,193.12 L617.45,193.09 L618.17,191.68 L618.90,193.70 L619.00,179.46 L619.63,178.60 L620.27,180.40 L620.90,180.45 L621.53,179.36 L622.17,178.41 L622.80,179.41 L622.90,201.86 L623.53,201.94 L624.17,202.96 L624.80,202.70 L624.80,252.7 Z" fill="#70a5cc"/>
<circle cx="613.00" cy="185.05" r="1.3" fill="#70a5cc"/>
<circle cx="615.90" cy="183.97" r="1.3" fill="#70a5cc"/>
<circle cx="616.73" cy="191.65" r="1.3" fill="#70a5cc"/>
<circle cx="620.27" cy="179.39" r="1.3" fill="#70a5cc"/>
<circle cx="623.53" cy="200.22" r="1.3" fill="#70a5cc"/>
<path d="M624.80,252.7 L624.80,210.89 L625.52,211.17 L626.25,209.06 L626.98,211.74 L627.70,210.07 L627.80,220.45 L628.43,220.31 L629.07,217.76 L629.70,219.88 L629.80,207.96 L630.40,205.02 L631.00,205.99 L631.60,207.37 L632.20,205.34 L632.80,207.85 L633.40,205.73 L634.00,207.57 L634.60,205.29 L634.70,212.01 L635.20,211.50 L635.20,252.7 Z" fill="#04658a"/>
<circle cx="626.25" cy="208.53" r="1.3" fill="#04658a"/>
<circle cx="628.43" cy="220.24" r="1.3" fill="#04658a"/>
<circle cx="629.70" cy="219.56" r="1.3" fill="#04658a"/>
<circle cx="634.00" cy="206.00" r="1.3" fill="#04658a"/>
<circle cx="634.70" cy="210.95" r="1.3" fill="#04658a"/>
<path d="M635.20,252.7 L635.20,179.96 L635.83,179.02 L636.46,180.77 L637.09,179.69 L637.72,179.77 L638.35,180.80 L638.98,178.16 L639.61,181.18 L640.24,179.94 L640.87,179.14 L641.50,180.51 L641.60,192.50 L642.25,194.97 L642.90,193.56 L643.55,192.82 L644.20,192.80 L644.20,252.7 Z" fill="#70a5cc"/>
<circle cx="637.72" cy="178.28" r="1.3" fill="#70a5cc"/>
<circle cx="638.98" cy="176.52" r="1.3" fill="#70a5cc"/>
<circle cx="640.24" cy="178.66" r="1.3" fill="#70a5cc"/>
<path d="M644.20,252.7 L644.20,222.26 L644.82,221.21 L645.43,221.31 L646.05,221.71 L646.67,223.29 L647.28,222.67 L647.90,222.94 L648.00,193.74 L648.62,191.15 L649.24,191.47 L649.85,192.92 L650.47,190.78 L651.09,190.71 L651.71,191.91 L652.33,191.06 L652.95,191.91 L653.56,191.46 L654.18,192.68 L654.80,191.90 L654.80,252.7 Z" fill="#04658a"/>
<circle cx="645.43" cy="220.07" r="1.3" fill="#04658a"/>
<circle cx="647.90" cy="221.07" r="1.3" fill="#04658a"/>
<circle cx="648.62" cy="190.85" r="1.3" fill="#04658a"/>
<circle cx="649.85" cy="191.64" r="1.3" fill="#04658a"/>
<circle cx="654.80" cy="191.88" r="1.3" fill="#04658a"/>
<path d="M654.80,252.7 L654.80,207.59 L655.52,207.31 L656.25,206.59 L656.98,207.60 L657.70,206.91 L657.80,199.79 L658.50,199.09 L659.20,197.44 L659.90,199.67 L660.60,196.75 L661.30,198.41 L661.40,206.18 L662.00,206.00 L662.00,252.7 Z" fill="#70a5cc"/>
<circle cx="654.80" cy="207.48" r="1.3" fill="#70a5cc"/>
<circle cx="657.70" cy="205.81" r="1.3" fill="#70a5cc"/>
<circle cx="659.90" cy="199.27" r="1.3" fill="#70a5cc"/>
<path d="M662.00,252.7 L662.00,213.48 L662.60,214.07 L663.20,211.89 L663.80,212.35 L664.40,212.32 L665.00,211.46 L665.60,214.32 L665.70,207.06 L666.40,206.83 L667.10,204.42 L667.80,207.27 L668.50,206.93 L669.20,225.38 L669.70,252.70 L669.70,252.7 Z" fill="#04658a"/>
<circle cx="664.40" cy="212.11" r="1.3" fill="#04658a"/>
<circle cx="665.60" cy="214.25" r="1.3" fill="#04658a"/>
<circle cx="666.40" cy="205.33" r="1.3" fill="#04658a"/>
<line x1="264.5" y1="202" x2="264.5" y2="212" stroke="#70a5cc" stroke-width="3.0" stroke-linecap="round"/>
<line x1="271.7" y1="175.5" x2="271.7" y2="184.7" stroke="#70a5cc" stroke-width="3.0" stroke-linecap="round"/>
<line x1="388.6" y1="182" x2="388.6" y2="190.1" stroke="#70a5cc" stroke-width="3.0" stroke-linecap="round"/>
<line x1="497.5" y1="197.8" x2="497.5" y2="206.6" stroke="#70a5cc" stroke-width="3.0" stroke-linecap="round"/>
<line x1="598.5" y1="192" x2="598.5" y2="206" stroke="#70a5cc" stroke-width="3.0" stroke-linecap="round"/>
<line x1="414.5" y1="169.2" x2="414.5" y2="178" stroke="#04658a" stroke-width="3.0" stroke-linecap="round"/>
<line x1="514" y1="170.2" x2="514" y2="186" stroke="#04658a" stroke-width="3.0" stroke-linecap="round"/>
<line x1="609.5" y1="192.8" x2="609.5" y2="205" stroke="#04658a" stroke-width="3.0" stroke-linecap="round"/>
<line x1="611.8" y1="195" x2="611.8" y2="204" stroke="#04658a" stroke-width="3.0" stroke-linecap="round"/>
<line x1="632.2" y1="194.8" x2="632.2" y2="206" stroke="#04658a" stroke-width="3.0" stroke-linecap="round"/>
<circle cx="271.7" cy="191" r="1.5" fill="#70a5cc"/>
<circle cx="271.7" cy="193" r="1.5" fill="#70a5cc"/>
<circle cx="271.7" cy="202" r="1.5" fill="#70a5cc"/>
<circle cx="287.5" cy="190" r="1.5" fill="#70a5cc"/>
<circle cx="295.4" cy="202" r="1.5" fill="#70a5cc"/>
<circle cx="304.7" cy="191" r="1.5" fill="#04658a"/>
<circle cx="304.7" cy="199.2" r="1.5" fill="#04658a"/>
<circle cx="304.7" cy="203.8" r="1.5" fill="#04658a"/>
<circle cx="324.8" cy="191" r="1.5" fill="#04658a"/>
<circle cx="352.2" cy="187.4" r="1.5" fill="#70a5cc"/>
<circle cx="382.4" cy="175.6" r="1.5" fill="#04658a"/>
<circle cx="407.4" cy="189.2" r="1.5" fill="#70a5cc"/>
<circle cx="483.1" cy="197.8" r="1.5" fill="#70a5cc"/>
<circle cx="514" cy="199.7" r="1.5" fill="#04658a"/>
<circle cx="533.5" cy="193.8" r="1.5" fill="#70a5cc"/>
<circle cx="540.2" cy="210.3" r="1.5" fill="#04658a"/>
<circle cx="572" cy="200.7" r="1.5" fill="#70a5cc"/>
<circle cx="638" cy="160.4" r="1.5" fill="#70a5cc"/>
<circle cx="638" cy="173.1" r="1.5" fill="#70a5cc"/>
<circle cx="651.4" cy="184" r="1.5" fill="#04658a"/>
<circle cx="659.3" cy="194.8" r="1.5" fill="#70a5cc"/>
<rect x="331.10" y="87.6" width="8.4" height="33.80" fill="#fff"/>
<text transform="translate(338.50,120.40) rotate(-90)" font-size="9" fill="#231f20" textLength="31.8" lengthAdjust="spacingAndGlyphs">C2orf82</text>
<rect x="351.90" y="64.6" width="8.4" height="23.90" fill="#fff"/>
<text transform="translate(359.30,87.50) rotate(-90)" font-size="9" fill="#231f20" textLength="21.9" lengthAdjust="spacingAndGlyphs">PCCB</text>
<rect x="353.40" y="104" width="8.4" height="44.70" fill="#fff"/>
<text transform="translate(360.80,147.70) rotate(-90)" font-size="9" fill="#231f20" textLength="42.7" lengthAdjust="spacingAndGlyphs">ARHGEF26</text>
<rect x="381.80" y="88.7" width="8.4" height="39.20" fill="#fff"/>
<text transform="translate(389.20,126.90) rotate(-90)" font-size="9" fill="#231f20" textLength="37.2" lengthAdjust="spacingAndGlyphs">GUCY1A3</text>
<rect x="416.60" y="103.8" width="8.4" height="41.30" fill="#fff"/>
<text transform="translate(424.00,144.10) rotate(-90)" font-size="9" fill="#231f20" textLength="39.3" lengthAdjust="spacingAndGlyphs">UHRF1BP1</text>
<rect x="512.70" y="128.9" width="8.4" height="16.20" fill="#fff"/>
<text transform="translate(520.10,144.10) rotate(-90)" font-size="9" fill="#231f20" textLength="14.2" lengthAdjust="spacingAndGlyphs">INA</text>
<rect x="614.10" y="108.2" width="8.4" height="33.30" fill="#fff"/>
<text transform="translate(621.50,140.50) rotate(-90)" font-size="9" fill="#231f20" textLength="31.3" lengthAdjust="spacingAndGlyphs">LRRC48</text>
<rect x="636.00" y="85.3" width="8.4" height="15.10" fill="#fff"/>
<text transform="translate(643.40,99.40) rotate(-90)" font-size="9" fill="#231f20" textLength="13.1" lengthAdjust="spacingAndGlyphs">ELL</text>
<rect x="649.10" y="99.5" width="8.4" height="32.00" fill="#fff"/>
<text transform="translate(656.50,130.50) rotate(-90)" font-size="9" fill="#231f20" textLength="30.0" lengthAdjust="spacingAndGlyphs">WFDC3</text>
<rect x="649.40" y="54.5" width="8.4" height="31.20" fill="#fff"/>
<text transform="translate(656.80,84.70) rotate(-90)" font-size="9" fill="#231f20" textLength="29.2" lengthAdjust="spacingAndGlyphs">ZNF831</text>
<line x1="244.5" y1="8.5" x2="244.5" y2="253.2" stroke="#8a8a8a" stroke-width="1"/>
<line x1="244.5" y1="252.7" x2="685" y2="252.7" stroke="#9a9a9a" stroke-width="1"/>
<line x1="241.3" y1="252.70" x2="244.5" y2="252.70" stroke="#8a8a8a" stroke-width="1"/>
<text x="237.70" y="255.70" font-size="8.3" text-anchor="end" fill="#231f20" font-weight="normal" textLength="4.85" lengthAdjust="spacingAndGlyphs"  stroke="#231f20" stroke-width="0.1">0</text>
<line x1="241.3" y1="184.90" x2="244.5" y2="184.90" stroke="#8a8a8a" stroke-width="1"/>
<text x="237.70" y="187.90" font-size="8.3" text-anchor="end" fill="#231f20" font-weight="normal" textLength="9.69" lengthAdjust="spacingAndGlyphs"  stroke="#231f20" stroke-width="0.1">10</text>
<line x1="241.3" y1="117.10" x2="244.5" y2="117.10" stroke="#8a8a8a" stroke-width="1"/>
<text x="237.70" y="120.10" font-size="8.3" text-anchor="end" fill="#231f20" font-weight="normal" textLength="9.69" lengthAdjust="spacingAndGlyphs"  stroke="#231f20" stroke-width="0.1">20</text>
<line x1="241.3" y1="49.30" x2="244.5" y2="49.30" stroke="#8a8a8a" stroke-width="1"/>
<text x="237.70" y="52.30" font-size="8.3" text-anchor="end" fill="#231f20" font-weight="normal" textLength="9.69" lengthAdjust="spacingAndGlyphs"  stroke="#231f20" stroke-width="0.1">30</text>
<text transform="translate(221,130.5) rotate(-90)" font-size="9" fill="#231f20" text-anchor="middle">−log<tspan font-size="6" dy="1.7">10</tspan><tspan font-style="italic" dy="-1.7">P</tspan></text>
<line x1="282.5" y1="252.7" x2="282.5" y2="256" stroke="#8a8a8a" stroke-width="1"/>
<text transform="translate(285.10,259.5) rotate(-90)" font-size="8" fill="#231f20" text-anchor="end">1</text>
<line x1="316.2" y1="252.7" x2="316.2" y2="256" stroke="#8a8a8a" stroke-width="1"/>
<text transform="translate(318.80,259.5) rotate(-90)" font-size="8" fill="#231f20" text-anchor="end">2</text>
<line x1="346.4" y1="252.7" x2="346.4" y2="256" stroke="#8a8a8a" stroke-width="1"/>
<text transform="translate(349.00,259.5) rotate(-90)" font-size="8" fill="#231f20" text-anchor="end">3</text>
<line x1="373.8" y1="252.7" x2="373.8" y2="256" stroke="#8a8a8a" stroke-width="1"/>
<text transform="translate(376.40,259.5) rotate(-90)" font-size="8" fill="#231f20" text-anchor="end">4</text>
<line x1="399.5" y1="252.7" x2="399.5" y2="256" stroke="#8a8a8a" stroke-width="1"/>
<text transform="translate(402.10,259.5) rotate(-90)" font-size="8" fill="#231f20" text-anchor="end">5</text>
<line x1="424.3" y1="252.7" x2="424.3" y2="256" stroke="#8a8a8a" stroke-width="1"/>
<text transform="translate(426.90,259.5) rotate(-90)" font-size="8" fill="#231f20" text-anchor="end">6</text>
<line x1="447.4" y1="252.7" x2="447.4" y2="256" stroke="#8a8a8a" stroke-width="1"/>
<text transform="translate(450.00,259.5) rotate(-90)" font-size="8" fill="#231f20" text-anchor="end">7</text>
<line x1="468.8" y1="252.7" x2="468.8" y2="256" stroke="#8a8a8a" stroke-width="1"/>
<text transform="translate(471.40,259.5) rotate(-90)" font-size="8" fill="#231f20" text-anchor="end">8</text>
<line x1="489.4" y1="252.7" x2="489.4" y2="256" stroke="#8a8a8a" stroke-width="1"/>
<text transform="translate(492.00,259.5) rotate(-90)" font-size="8" fill="#231f20" text-anchor="end">9</text>
<line x1="508.8" y1="252.7" x2="508.8" y2="256" stroke="#8a8a8a" stroke-width="1"/>
<text transform="translate(511.40,259.5) rotate(-90)" font-size="8" fill="#231f20" text-anchor="end">10</text>
<line x1="527.5" y1="252.7" x2="527.5" y2="256" stroke="#8a8a8a" stroke-width="1"/>
<text transform="translate(530.10,259.5) rotate(-90)" font-size="8" fill="#231f20" text-anchor="end">11</text>
<line x1="546.5" y1="252.7" x2="546.5" y2="256" stroke="#8a8a8a" stroke-width="1"/>
<text transform="translate(549.10,259.5) rotate(-90)" font-size="8" fill="#231f20" text-anchor="end">12</text>
<line x1="565.3" y1="252.7" x2="565.3" y2="256" stroke="#8a8a8a" stroke-width="1"/>
<text transform="translate(567.90,259.5) rotate(-90)" font-size="8" fill="#231f20" text-anchor="end">13</text>
<line x1="581.3" y1="252.7" x2="581.3" y2="256" stroke="#8a8a8a" stroke-width="1"/>
<text transform="translate(583.90,259.5) rotate(-90)" font-size="8" fill="#231f20" text-anchor="end">14</text>
<line x1="596.4" y1="252.7" x2="596.4" y2="256" stroke="#8a8a8a" stroke-width="1"/>
<text transform="translate(599.00,259.5) rotate(-90)" font-size="8" fill="#231f20" text-anchor="end">15</text>
<line x1="608.4" y1="252.7" x2="608.4" y2="256" stroke="#8a8a8a" stroke-width="1"/>
<text transform="translate(611.00,259.5) rotate(-90)" font-size="8" fill="#231f20" text-anchor="end">16</text>
<line x1="620" y1="252.7" x2="620" y2="256" stroke="#8a8a8a" stroke-width="1"/>
<text transform="translate(622.60,259.5) rotate(-90)" font-size="8" fill="#231f20" text-anchor="end">17</text>
<line x1="628.8" y1="252.7" x2="628.8" y2="256" stroke="#8a8a8a" stroke-width="1"/>
<text transform="translate(631.40,259.5) rotate(-90)" font-size="8" fill="#231f20" text-anchor="end">18</text>
<line x1="640.2" y1="252.7" x2="640.2" y2="256" stroke="#8a8a8a" stroke-width="1"/>
<text transform="translate(642.80,259.5) rotate(-90)" font-size="8" fill="#231f20" text-anchor="end">19</text>
<line x1="649.2" y1="252.7" x2="649.2" y2="256" stroke="#8a8a8a" stroke-width="1"/>
<text transform="translate(651.80,259.5) rotate(-90)" font-size="8" fill="#231f20" text-anchor="end">20</text>
<line x1="658.7" y1="252.7" x2="658.7" y2="256" stroke="#8a8a8a" stroke-width="1"/>
<text transform="translate(661.30,259.5) rotate(-90)" font-size="8" fill="#231f20" text-anchor="end">21</text>
<line x1="665.7" y1="252.7" x2="665.7" y2="256" stroke="#8a8a8a" stroke-width="1"/>
<text transform="translate(668.30,259.5) rotate(-90)" font-size="8" fill="#231f20" text-anchor="end">22</text>
<rect x="137" y="294.99" width="30.70" height="12.93" fill="rgb(247,216,124)"/>
<text x="153.15" y="304.40" font-size="8.5" text-anchor="middle" fill="#231f20" font-weight="normal" textLength="12.76" lengthAdjust="spacingAndGlyphs"  stroke="#231f20" stroke-width="0.1">3.3</text>
<rect x="107" y="332.88" width="30.00" height="12.93" fill="rgb(250,231,152)"/>
<text x="122.80" y="342.29" font-size="8.5" text-anchor="middle" fill="#231f20" font-weight="normal" textLength="17.87" lengthAdjust="spacingAndGlyphs"  stroke="#231f20" stroke-width="0.1">2.78</text>
<rect x="137" y="332.88" width="30.70" height="12.93" fill="rgb(243,196,92)"/>
<text x="153.15" y="342.29" font-size="8.5" text-anchor="middle" fill="#231f20" font-weight="normal" textLength="17.87" lengthAdjust="spacingAndGlyphs"  stroke="#231f20" stroke-width="0.1">3.92</text>
<rect x="77" y="345.50" width="30.00" height="12.93" fill="rgb(217,93,73)"/>
<text x="92.80" y="354.92" font-size="8.5" text-anchor="middle" fill="#231f20" font-weight="normal" textLength="17.87" lengthAdjust="spacingAndGlyphs"  stroke="#231f20" stroke-width="0.1">7.81</text>
<rect x="77" y="358.14" width="30.00" height="12.93" fill="rgb(216,88,72)"/>
<text x="92.80" y="367.55" font-size="8.5" text-anchor="middle" fill="#231f20" font-weight="normal" textLength="17.87" lengthAdjust="spacingAndGlyphs"  stroke="#231f20" stroke-width="0.1">7.98</text>
<rect x="137" y="433.92" width="30.70" height="12.93" fill="rgb(251,239,172)"/>
<text x="153.15" y="443.33" font-size="8.5" text-anchor="middle" fill="#231f20" font-weight="normal" textLength="17.87" lengthAdjust="spacingAndGlyphs"  stroke="#231f20" stroke-width="0.1">2.42</text>
<rect x="137" y="459.18" width="30.70" height="12.93" fill="rgb(252,240,176)"/>
<text x="153.15" y="468.59" font-size="8.5" text-anchor="middle" fill="#231f20" font-weight="normal" textLength="17.87" lengthAdjust="spacingAndGlyphs"  stroke="#231f20" stroke-width="0.1">2.36</text>
<rect x="137" y="610.73" width="30.70" height="12.93" fill="rgb(249,224,137)"/>
<text x="153.15" y="620.15" font-size="8.5" text-anchor="middle" fill="#231f20" font-weight="normal" textLength="17.87" lengthAdjust="spacingAndGlyphs"  stroke="#231f20" stroke-width="0.1">3.05</text>
<text x="67.20" y="304.50" font-size="8.8" text-anchor="end" fill="#231f20" font-weight="normal" textLength="59.24" lengthAdjust="spacingAndGlyphs"  stroke="#231f20" stroke-width="0.1">Adipose tissue</text>
<line x1="70.9" y1="301.30" x2="73.4" y2="301.30" stroke="#8a8a8a" stroke-width="1"/>
<text x="67.20" y="317.13" font-size="8.8" text-anchor="end" fill="#231f20" font-weight="normal" textLength="56.21" lengthAdjust="spacingAndGlyphs"  stroke="#231f20" stroke-width="0.1">Adrenal gland</text>
<line x1="70.9" y1="313.93" x2="73.4" y2="313.93" stroke="#8a8a8a" stroke-width="1"/>
<text x="67.20" y="329.76" font-size="8.8" text-anchor="end" fill="#231f20" font-weight="normal" textLength="23.30" lengthAdjust="spacingAndGlyphs"  stroke="#231f20" stroke-width="0.1">Blood</text>
<line x1="70.9" y1="326.56" x2="73.4" y2="326.56" stroke="#8a8a8a" stroke-width="1"/>
<text x="67.20" y="342.39" font-size="8.8" text-anchor="end" fill="#231f20" font-weight="normal" textLength="51.64" lengthAdjust="spacingAndGlyphs"  stroke="#231f20" stroke-width="0.1">Blood vessel</text>
<line x1="70.9" y1="339.19" x2="73.4" y2="339.19" stroke="#8a8a8a" stroke-width="1"/>
<text x="67.20" y="355.02" font-size="8.8" text-anchor="end" fill="#231f20" font-weight="normal" textLength="48.60" lengthAdjust="spacingAndGlyphs"  stroke="#231f20" stroke-width="0.1">Brain cortex</text>
<line x1="70.9" y1="351.82" x2="73.4" y2="351.82" stroke="#8a8a8a" stroke-width="1"/>
<text x="67.20" y="367.65" font-size="8.8" text-anchor="end" fill="#231f20" font-weight="normal" textLength="44.55" lengthAdjust="spacingAndGlyphs"  stroke="#231f20" stroke-width="0.1">Brain other</text>
<line x1="70.9" y1="364.45" x2="73.4" y2="364.45" stroke="#8a8a8a" stroke-width="1"/>
<text x="67.20" y="380.28" font-size="8.8" text-anchor="end" fill="#231f20" font-weight="normal" textLength="26.32" lengthAdjust="spacingAndGlyphs"  stroke="#231f20" stroke-width="0.1">Breast</text>
<line x1="70.9" y1="377.08" x2="73.4" y2="377.08" stroke="#8a8a8a" stroke-width="1"/>
<text x="67.20" y="392.91" font-size="8.8" text-anchor="end" fill="#231f20" font-weight="normal" textLength="23.80" lengthAdjust="spacingAndGlyphs"  stroke="#231f20" stroke-width="0.1">Colon</text>
<line x1="70.9" y1="389.71" x2="73.4" y2="389.71" stroke="#8a8a8a" stroke-width="1"/>
<text x="67.20" y="405.54" font-size="8.8" text-anchor="end" fill="#231f20" font-weight="normal" textLength="45.58" lengthAdjust="spacingAndGlyphs"  stroke="#231f20" stroke-width="0.1">Esophagus</text>
<line x1="70.9" y1="402.34" x2="73.4" y2="402.34" stroke="#8a8a8a" stroke-width="1"/>
<text x="67.20" y="418.17" font-size="8.8" text-anchor="end" fill="#231f20" font-weight="normal" textLength="22.27" lengthAdjust="spacingAndGlyphs"  stroke="#231f20" stroke-width="0.1">Heart</text>
<line x1="70.9" y1="414.97" x2="73.4" y2="414.97" stroke="#8a8a8a" stroke-width="1"/>
<text x="67.20" y="430.80" font-size="8.8" text-anchor="end" fill="#231f20" font-weight="normal" textLength="19.74" lengthAdjust="spacingAndGlyphs"  stroke="#231f20" stroke-width="0.1">Liver</text>
<line x1="70.9" y1="427.60" x2="73.4" y2="427.60" stroke="#8a8a8a" stroke-width="1"/>
<text x="67.20" y="443.43" font-size="8.8" text-anchor="end" fill="#231f20" font-weight="normal" textLength="20.26" lengthAdjust="spacingAndGlyphs"  stroke="#231f20" stroke-width="0.1">Lung</text>
<line x1="70.9" y1="440.23" x2="73.4" y2="440.23" stroke="#8a8a8a" stroke-width="1"/>
<text x="67.20" y="456.06" font-size="8.8" text-anchor="end" fill="#231f20" font-weight="normal" textLength="28.85" lengthAdjust="spacingAndGlyphs"  stroke="#231f20" stroke-width="0.1">Muscle</text>
<line x1="70.9" y1="452.86" x2="73.4" y2="452.86" stroke="#8a8a8a" stroke-width="1"/>
<text x="67.20" y="468.69" font-size="8.8" text-anchor="end" fill="#231f20" font-weight="normal" textLength="24.30" lengthAdjust="spacingAndGlyphs"  stroke="#231f20" stroke-width="0.1">Nerve</text>
<line x1="70.9" y1="465.49" x2="73.4" y2="465.49" stroke="#8a8a8a" stroke-width="1"/>
<text x="67.20" y="481.32" font-size="8.8" text-anchor="end" fill="#231f20" font-weight="normal" textLength="24.29" lengthAdjust="spacingAndGlyphs"  stroke="#231f20" stroke-width="0.1">Ovary</text>
<line x1="70.9" y1="478.12" x2="73.4" y2="478.12" stroke="#8a8a8a" stroke-width="1"/>
<text x="67.20" y="493.95" font-size="8.8" text-anchor="end" fill="#231f20" font-weight="normal" textLength="38.48" lengthAdjust="spacingAndGlyphs"  stroke="#231f20" stroke-width="0.1">Pancreas</text>
<line x1="70.9" y1="490.75" x2="73.4" y2="490.75" stroke="#8a8a8a" stroke-width="1"/>
<text x="67.20" y="506.58" font-size="8.8" text-anchor="end" fill="#231f20" font-weight="normal" textLength="32.90" lengthAdjust="spacingAndGlyphs"  stroke="#231f20" stroke-width="0.1">Pituitary</text>
<line x1="70.9" y1="503.38" x2="73.4" y2="503.38" stroke="#8a8a8a" stroke-width="1"/>
<text x="67.20" y="519.21" font-size="8.8" text-anchor="end" fill="#231f20" font-weight="normal" textLength="33.92" lengthAdjust="spacingAndGlyphs"  stroke="#231f20" stroke-width="0.1">Prostate</text>
<line x1="70.9" y1="516.01" x2="73.4" y2="516.01" stroke="#8a8a8a" stroke-width="1"/>
<text x="67.20" y="531.84" font-size="8.8" text-anchor="end" fill="#231f20" font-weight="normal" textLength="57.21" lengthAdjust="spacingAndGlyphs"  stroke="#231f20" stroke-width="0.1">Salivary gland</text>
<line x1="70.9" y1="528.64" x2="73.4" y2="528.64" stroke="#8a8a8a" stroke-width="1"/>
<text x="67.20" y="544.47" font-size="8.8" text-anchor="end" fill="#231f20" font-weight="normal" textLength="17.72" lengthAdjust="spacingAndGlyphs"  stroke="#231f20" stroke-width="0.1">Skin</text>
<line x1="70.9" y1="541.27" x2="73.4" y2="541.27" stroke="#8a8a8a" stroke-width="1"/>
<text x="67.20" y="557.10" font-size="8.8" text-anchor="end" fill="#231f20" font-weight="normal" textLength="59.23" lengthAdjust="spacingAndGlyphs"  stroke="#231f20" stroke-width="0.1">Small intestine</text>
<line x1="70.9" y1="553.90" x2="73.4" y2="553.90" stroke="#8a8a8a" stroke-width="1"/>
<text x="67.20" y="569.73" font-size="8.8" text-anchor="end" fill="#231f20" font-weight="normal" textLength="28.36" lengthAdjust="spacingAndGlyphs"  stroke="#231f20" stroke-width="0.1">Spleen</text>
<line x1="70.9" y1="566.53" x2="73.4" y2="566.53" stroke="#8a8a8a" stroke-width="1"/>
<text x="67.20" y="582.36" font-size="8.8" text-anchor="end" fill="#231f20" font-weight="normal" textLength="35.94" lengthAdjust="spacingAndGlyphs"  stroke="#231f20" stroke-width="0.1">Stomach</text>
<line x1="70.9" y1="579.16" x2="73.4" y2="579.16" stroke="#8a8a8a" stroke-width="1"/>
<text x="67.20" y="594.99" font-size="8.8" text-anchor="end" fill="#231f20" font-weight="normal" textLength="23.28" lengthAdjust="spacingAndGlyphs"  stroke="#231f20" stroke-width="0.1">Testis</text>
<line x1="70.9" y1="591.79" x2="73.4" y2="591.79" stroke="#8a8a8a" stroke-width="1"/>
<text x="67.20" y="607.62" font-size="8.8" text-anchor="end" fill="#231f20" font-weight="normal" textLength="30.37" lengthAdjust="spacingAndGlyphs"  stroke="#231f20" stroke-width="0.1">Thyroid</text>
<line x1="70.9" y1="604.42" x2="73.4" y2="604.42" stroke="#8a8a8a" stroke-width="1"/>
<text x="67.20" y="620.25" font-size="8.8" text-anchor="end" fill="#231f20" font-weight="normal" textLength="26.83" lengthAdjust="spacingAndGlyphs"  stroke="#231f20" stroke-width="0.1">Uterus</text>
<line x1="70.9" y1="617.05" x2="73.4" y2="617.05" stroke="#8a8a8a" stroke-width="1"/>
<text x="67.20" y="632.88" font-size="8.8" text-anchor="end" fill="#231f20" font-weight="normal" textLength="27.69" lengthAdjust="spacingAndGlyphs"  stroke="#231f20" stroke-width="0.1">Vagina</text>
<line x1="70.9" y1="629.68" x2="73.4" y2="629.68" stroke="#8a8a8a" stroke-width="1"/>
<line x1="73.4" y1="294" x2="73.4" y2="637.4" stroke="#8a8a8a" stroke-width="1"/>
<line x1="73" y1="636.9" x2="170" y2="636.9" stroke="#8a8a8a" stroke-width="1"/>
<line x1="92" y1="636.9" x2="92" y2="640" stroke="#8a8a8a" stroke-width="1"/>
<text transform="translate(95.60,647.2) rotate(-45)" font-size="8.5" fill="#231f20" text-anchor="end">MDD</text>
<line x1="122.2" y1="636.9" x2="122.2" y2="640" stroke="#8a8a8a" stroke-width="1"/>
<text transform="translate(125.80,647.2) rotate(-45)" font-size="8.5" fill="#231f20" text-anchor="end">MDD–ASCVD</text>
<line x1="152.5" y1="636.9" x2="152.5" y2="640" stroke="#8a8a8a" stroke-width="1"/>
<text transform="translate(156.10,647.2) rotate(-45)" font-size="8.5" fill="#231f20" text-anchor="end">ASCVD</text>
<rect x="364.2" y="295.51" width="31.80" height="11.28" fill="rgb(252,240,175)"/>
<text x="380.90" y="304.10" font-size="8.5" text-anchor="middle" fill="#231f20" font-weight="normal" textLength="17.87" lengthAdjust="spacingAndGlyphs"  stroke="#231f20" stroke-width="0.1">2.37</text>
<rect x="364.2" y="306.49" width="31.80" height="11.28" fill="rgb(251,235,162)"/>
<text x="380.90" y="315.08" font-size="8.5" text-anchor="middle" fill="#231f20" font-weight="normal" textLength="12.76" lengthAdjust="spacingAndGlyphs"  stroke="#231f20" stroke-width="0.1">2.6</text>
<text x="380.90" y="326.06" font-size="8.5" text-anchor="middle" fill="#231f20" font-weight="normal" textLength="17.87" lengthAdjust="spacingAndGlyphs"  stroke="#231f20" stroke-width="0.1">1.83</text>
<rect x="396" y="328.45" width="31.50" height="11.28" fill="rgb(250,230,150)"/>
<text x="412.55" y="337.04" font-size="8.5" text-anchor="middle" fill="#231f20" font-weight="normal" textLength="17.87" lengthAdjust="spacingAndGlyphs"  stroke="#231f20" stroke-width="0.1">2.82</text>
<rect x="364.2" y="339.43" width="31.80" height="11.28" fill="rgb(248,221,132)"/>
<text x="380.90" y="348.02" font-size="8.5" text-anchor="middle" fill="#231f20" font-weight="normal" textLength="17.87" lengthAdjust="spacingAndGlyphs"  stroke="#231f20" stroke-width="0.1">3.15</text>
<text x="380.90" y="359.00" font-size="8.5" text-anchor="middle" fill="#231f20" font-weight="normal" textLength="17.87" lengthAdjust="spacingAndGlyphs"  stroke="#231f20" stroke-width="0.1">1.86</text>
<rect x="364.2" y="372.37" width="31.80" height="11.28" fill="rgb(234,158,79)"/>
<text x="380.90" y="380.96" font-size="8.5" text-anchor="middle" fill="#231f20" font-weight="normal" textLength="17.87" lengthAdjust="spacingAndGlyphs"  stroke="#231f20" stroke-width="0.1">5.39</text>
<rect x="364.2" y="383.35" width="31.80" height="11.28" fill="rgb(250,232,155)"/>
<text x="380.90" y="391.94" font-size="8.5" text-anchor="middle" fill="#231f20" font-weight="normal" textLength="17.87" lengthAdjust="spacingAndGlyphs"  stroke="#231f20" stroke-width="0.1">2.74</text>
<rect x="364.2" y="394.33" width="31.80" height="11.28" fill="rgb(237,169,78)"/>
<text x="380.90" y="402.92" font-size="8.5" text-anchor="middle" fill="#231f20" font-weight="normal" textLength="12.76" lengthAdjust="spacingAndGlyphs"  stroke="#231f20" stroke-width="0.1">4.9</text>
<rect x="364.2" y="405.31" width="31.80" height="11.28" fill="rgb(240,186,85)"/>
<text x="380.90" y="413.90" font-size="8.5" text-anchor="middle" fill="#231f20" font-weight="normal" textLength="17.87" lengthAdjust="spacingAndGlyphs"  stroke="#231f20" stroke-width="0.1">4.26</text>
<rect x="364.2" y="416.29" width="31.80" height="11.28" fill="rgb(245,205,107)"/>
<text x="380.90" y="424.88" font-size="8.5" text-anchor="middle" fill="#231f20" font-weight="normal" textLength="17.87" lengthAdjust="spacingAndGlyphs"  stroke="#231f20" stroke-width="0.1">3.64</text>
<rect x="364.2" y="438.25" width="31.80" height="11.28" fill="rgb(252,244,185)"/>
<text x="380.90" y="446.84" font-size="8.5" text-anchor="middle" fill="#231f20" font-weight="normal" textLength="17.87" lengthAdjust="spacingAndGlyphs"  stroke="#231f20" stroke-width="0.1">2.19</text>
<rect x="396" y="460.21" width="31.50" height="11.28" fill="rgb(252,244,185)"/>
<text x="412.55" y="468.80" font-size="8.5" text-anchor="middle" fill="#231f20" font-weight="normal" textLength="17.87" lengthAdjust="spacingAndGlyphs"  stroke="#231f20" stroke-width="0.1">2.19</text>
<rect x="364.2" y="504.13" width="31.80" height="11.28" fill="rgb(252,240,176)"/>
<text x="380.90" y="512.72" font-size="8.5" text-anchor="middle" fill="#231f20" font-weight="normal" textLength="17.87" lengthAdjust="spacingAndGlyphs"  stroke="#231f20" stroke-width="0.1">2.36</text>
<rect x="364.2" y="515.11" width="31.80" height="11.28" fill="rgb(251,237,169)"/>
<text x="380.90" y="523.70" font-size="8.5" text-anchor="middle" fill="#231f20" font-weight="normal" textLength="17.87" lengthAdjust="spacingAndGlyphs"  stroke="#231f20" stroke-width="0.1">2.49</text>
<rect x="396" y="515.11" width="31.50" height="11.28" fill="rgb(252,243,184)"/>
<text x="412.55" y="523.70" font-size="8.5" text-anchor="middle" fill="#231f20" font-weight="normal" textLength="17.87" lengthAdjust="spacingAndGlyphs"  stroke="#231f20" stroke-width="0.1">2.21</text>
<rect x="396" y="624.91" width="31.50" height="11.28" fill="rgb(252,243,184)"/>
<text x="412.55" y="633.50" font-size="8.5" text-anchor="middle" fill="#231f20" font-weight="normal" textLength="17.87" lengthAdjust="spacingAndGlyphs"  stroke="#231f20" stroke-width="0.1">2.21</text>
<text x="357.00" y="304.20" font-size="8.8" text-anchor="end" fill="#231f20" font-weight="normal" textLength="122.75" lengthAdjust="spacingAndGlyphs"  stroke="#231f20" stroke-width="0.1">Upper-layer intratelencephalic</text>
<text x="357.00" y="315.18" font-size="8.8" text-anchor="end" fill="#231f20" font-weight="normal" textLength="119.68" lengthAdjust="spacingAndGlyphs"  stroke="#231f20" stroke-width="0.1">Deep-layer intratelencephalic</text>
<text x="357.00" y="326.16" font-size="8.8" text-anchor="end" fill="#231f20" font-weight="normal" textLength="108.89" lengthAdjust="spacingAndGlyphs"  stroke="#231f20" stroke-width="0.1">Deep-layer near projecting</text>
<text x="357.00" y="337.14" font-size="8.8" text-anchor="end" fill="#231f20" font-weight="normal" textLength="140.21" lengthAdjust="spacingAndGlyphs"  stroke="#231f20" stroke-width="0.1">Deep-layer corticothalamic and 6b</text>
<text x="357.00" y="348.12" font-size="8.8" text-anchor="end" fill="#231f20" font-weight="normal" textLength="82.69" lengthAdjust="spacingAndGlyphs"  stroke="#231f20" stroke-width="0.1">Hippocampal CA1-3</text>
<text x="357.00" y="359.10" font-size="8.8" text-anchor="end" fill="#231f20" font-weight="normal" textLength="74.47" lengthAdjust="spacingAndGlyphs"  stroke="#231f20" stroke-width="0.1">Hippocampal CA4</text>
<text x="357.00" y="370.08" font-size="8.8" text-anchor="end" fill="#231f20" font-weight="normal" textLength="112.49" lengthAdjust="spacingAndGlyphs"  stroke="#231f20" stroke-width="0.1">Hippocampal dentate gyrus</text>
<text x="357.00" y="381.06" font-size="8.8" text-anchor="end" fill="#231f20" font-weight="normal" textLength="83.20" lengthAdjust="spacingAndGlyphs"  stroke="#231f20" stroke-width="0.1">Amygdala excitatory</text>
<text x="357.00" y="392.04" font-size="8.8" text-anchor="end" fill="#231f20" font-weight="normal" textLength="79.59" lengthAdjust="spacingAndGlyphs"  stroke="#231f20" stroke-width="0.1">Thalamic excitatory</text>
<text x="357.00" y="403.02" font-size="8.8" text-anchor="end" fill="#231f20" font-weight="normal" textLength="70.36" lengthAdjust="spacingAndGlyphs"  stroke="#231f20" stroke-width="0.1">MGE interneuron</text>
<text x="357.00" y="414.00" font-size="8.8" text-anchor="end" fill="#231f20" font-weight="normal" textLength="69.34" lengthAdjust="spacingAndGlyphs"  stroke="#231f20" stroke-width="0.1">CGE interneuron</text>
<text x="357.00" y="424.98" font-size="8.8" text-anchor="end" fill="#231f20" font-weight="normal" textLength="119.68" lengthAdjust="spacingAndGlyphs"  stroke="#231f20" stroke-width="0.1">LAMP5-LHX6 and chandelier</text>
<text x="357.00" y="435.96" font-size="8.8" text-anchor="end" fill="#231f20" font-weight="normal" textLength="88.34" lengthAdjust="spacingAndGlyphs"  stroke="#231f20" stroke-width="0.1">Medium spiny neuron</text>
<text x="357.00" y="446.94" font-size="8.8" text-anchor="end" fill="#231f20" font-weight="normal" textLength="128.91" lengthAdjust="spacingAndGlyphs"  stroke="#231f20" stroke-width="0.1">Eccentric medium spiny neuron</text>
<text x="357.00" y="457.92" font-size="8.8" text-anchor="end" fill="#231f20" font-weight="normal" textLength="31.84" lengthAdjust="spacingAndGlyphs"  stroke="#231f20" stroke-width="0.1">Splatter</text>
<text x="357.00" y="468.90" font-size="8.8" text-anchor="end" fill="#231f20" font-weight="normal" textLength="108.37" lengthAdjust="spacingAndGlyphs"  stroke="#231f20" stroke-width="0.1">Midbrain-derived inhibitory</text>
<text x="357.00" y="479.88" font-size="8.8" text-anchor="end" fill="#231f20" font-weight="normal" textLength="69.83" lengthAdjust="spacingAndGlyphs"  stroke="#231f20" stroke-width="0.1">Mammillary body</text>
<text x="357.00" y="490.86" font-size="8.8" text-anchor="end" fill="#231f20" font-weight="normal" textLength="72.41" lengthAdjust="spacingAndGlyphs"  stroke="#231f20" stroke-width="0.1">Lower rhombic lip</text>
<text x="357.00" y="501.84" font-size="8.8" text-anchor="end" fill="#231f20" font-weight="normal" textLength="72.41" lengthAdjust="spacingAndGlyphs"  stroke="#231f20" stroke-width="0.1">Upper rhombic lip</text>
<text x="357.00" y="512.82" font-size="8.8" text-anchor="end" fill="#231f20" font-weight="normal" textLength="82.18" lengthAdjust="spacingAndGlyphs"  stroke="#231f20" stroke-width="0.1">Cerebellar inhibitory</text>
<text x="357.00" y="523.80" font-size="8.8" text-anchor="end" fill="#231f20" font-weight="normal" textLength="58.55" lengthAdjust="spacingAndGlyphs"  stroke="#231f20" stroke-width="0.1">Miscellaneous</text>
<text x="357.00" y="534.78" font-size="8.8" text-anchor="end" fill="#231f20" font-weight="normal" textLength="38.51" lengthAdjust="spacingAndGlyphs"  stroke="#231f20" stroke-width="0.1">Astrocyte</text>
<text x="357.00" y="545.76" font-size="8.8" text-anchor="end" fill="#231f20" font-weight="normal" textLength="59.58" lengthAdjust="spacingAndGlyphs"  stroke="#231f20" stroke-width="0.1">Bergmann glia</text>
<text x="357.00" y="556.74" font-size="8.8" text-anchor="end" fill="#231f20" font-weight="normal" textLength="61.64" lengthAdjust="spacingAndGlyphs"  stroke="#231f20" stroke-width="0.1">Choroid plexus</text>
<text x="357.00" y="567.72" font-size="8.8" text-anchor="end" fill="#231f20" font-weight="normal" textLength="154.08" lengthAdjust="spacingAndGlyphs"  stroke="#231f20" stroke-width="0.1">Committed oligodendrocyte precursor</text>
<text x="357.00" y="578.70" font-size="8.8" text-anchor="end" fill="#231f20" font-weight="normal" textLength="46.23" lengthAdjust="spacingAndGlyphs"  stroke="#231f20" stroke-width="0.1">Ependymal</text>
<text x="357.00" y="589.68" font-size="8.8" text-anchor="end" fill="#231f20" font-weight="normal" textLength="40.57" lengthAdjust="spacingAndGlyphs"  stroke="#231f20" stroke-width="0.1">Fibroblast</text>
<text x="357.00" y="600.66" font-size="8.8" text-anchor="end" fill="#231f20" font-weight="normal" textLength="36.97" lengthAdjust="spacingAndGlyphs"  stroke="#231f20" stroke-width="0.1">Microglia</text>
<text x="357.00" y="611.64" font-size="8.8" text-anchor="end" fill="#231f20" font-weight="normal" textLength="108.88" lengthAdjust="spacingAndGlyphs"  stroke="#231f20" stroke-width="0.1">Oligodendrocyte precursor</text>
<text x="357.00" y="622.62" font-size="8.8" text-anchor="end" fill="#231f20" font-weight="normal" textLength="67.29" lengthAdjust="spacingAndGlyphs"  stroke="#231f20" stroke-width="0.1">Oligodendrocyte</text>
<text x="357.00" y="633.60" font-size="8.8" text-anchor="end" fill="#231f20" font-weight="normal" textLength="35.27" lengthAdjust="spacingAndGlyphs"  stroke="#231f20" stroke-width="0.1">Vascular</text>
<line x1="361.5" y1="294.4" x2="361.5" y2="637.5" stroke="#8a8a8a" stroke-width="1"/>
<line x1="361" y1="637" x2="462.6" y2="637" stroke="#8a8a8a" stroke-width="1"/>
<line x1="380.5" y1="637" x2="380.5" y2="640" stroke="#8a8a8a" stroke-width="1"/>
<text transform="translate(384.10,647.2) rotate(-45)" font-size="8.5" fill="#231f20" text-anchor="end">MDD</text>
<line x1="411.9" y1="637" x2="411.9" y2="640" stroke="#8a8a8a" stroke-width="1"/>
<text transform="translate(415.50,647.2) rotate(-45)" font-size="8.5" fill="#231f20" text-anchor="end">MDD–ASCVD</text>
<line x1="443.6" y1="637" x2="443.6" y2="640" stroke="#8a8a8a" stroke-width="1"/>
<text transform="translate(447.20,647.2) rotate(-45)" font-size="8.5" fill="#231f20" text-anchor="end">ASCVD</text>
<defs><linearGradient id="hg" x1="0" x2="1" y1="0" y2="0"><stop offset="0.000" stop-color="rgb(253,248,196)"/><stop offset="0.166" stop-color="rgb(249,226,140)"/><stop offset="0.332" stop-color="rgb(242,193,88)"/><stop offset="0.498" stop-color="rgb(236,166,77)"/><stop offset="0.664" stop-color="rgb(232,145,82)"/><stop offset="0.831" stop-color="rgb(223,112,78)"/><stop offset="0.997" stop-color="rgb(216,88,72)"/></linearGradient></defs>
<rect x="216.8" y="647.1" width="103.3" height="10.9" fill="url(#hg)"/>
<line x1="234.30" y1="647.1" x2="234.30" y2="649.3" stroke="#fff" stroke-width="0.8"/>
<line x1="234.30" y1="655.8" x2="234.30" y2="658" stroke="#fff" stroke-width="0.8"/>
<line x1="251.40" y1="647.1" x2="251.40" y2="649.3" stroke="#fff" stroke-width="0.8"/>
<line x1="251.40" y1="655.8" x2="251.40" y2="658" stroke="#fff" stroke-width="0.8"/>
<line x1="268.50" y1="647.1" x2="268.50" y2="649.3" stroke="#fff" stroke-width="0.8"/>
<line x1="268.50" y1="655.8" x2="268.50" y2="658" stroke="#fff" stroke-width="0.8"/>
<line x1="285.60" y1="647.1" x2="285.60" y2="649.3" stroke="#fff" stroke-width="0.8"/>
<line x1="285.60" y1="655.8" x2="285.60" y2="658" stroke="#fff" stroke-width="0.8"/>
<line x1="302.70" y1="647.1" x2="302.70" y2="649.3" stroke="#fff" stroke-width="0.8"/>
<line x1="302.70" y1="655.8" x2="302.70" y2="658" stroke="#fff" stroke-width="0.8"/>
<text x="217.20" y="666.60" font-size="8" text-anchor="middle" fill="#231f20" font-weight="normal"  stroke="#231f20" stroke-width="0.1">2</text>
<text x="234.30" y="666.60" font-size="8" text-anchor="middle" fill="#231f20" font-weight="normal"  stroke="#231f20" stroke-width="0.1">3</text>
<text x="251.40" y="666.60" font-size="8" text-anchor="middle" fill="#231f20" font-weight="normal"  stroke="#231f20" stroke-width="0.1">4</text>
<text x="268.50" y="666.60" font-size="8" text-anchor="middle" fill="#231f20" font-weight="normal"  stroke="#231f20" stroke-width="0.1">5</text>
<text x="285.60" y="666.60" font-size="8" text-anchor="middle" fill="#231f20" font-weight="normal"  stroke="#231f20" stroke-width="0.1">6</text>
<text x="302.70" y="666.60" font-size="8" text-anchor="middle" fill="#231f20" font-weight="normal"  stroke="#231f20" stroke-width="0.1">7</text>
<text x="212.8" y="655.3" font-size="8.4" fill="#231f20" text-anchor="end">−log<tspan font-size="5.8" dy="1.6">10</tspan><tspan font-style="italic" dy="-1.6">P</tspan></text>
<rect x="527" y="303.30" width="6.90" height="14.9" fill="#7dc77f"/>
<rect x="527" y="320.00" width="38.16" height="14.9" fill="#bcaed5"/>
<rect x="527" y="336.60" width="35.73" height="14.9" fill="#2c6530"/>
<text x="512.70" y="330.40" font-size="8.6" text-anchor="end" fill="#231f20" font-weight="normal" textLength="17.56" lengthAdjust="spacingAndGlyphs"  stroke="#231f20" stroke-width="0.1">PAD</text>
<line x1="516.3" y1="327.30" x2="519.4" y2="327.30" stroke="#8a8a8a" stroke-width="1"/>
<rect x="527" y="358.80" width="4.06" height="14.9" fill="#7dc77f"/>
<rect x="527" y="375.50" width="45.07" height="14.9" fill="#bcaed5"/>
<rect x="527" y="392.10" width="43.44" height="14.9" fill="#2c6530"/>
<text x="512.70" y="385.90" font-size="8.6" text-anchor="end" fill="#231f20" font-weight="normal" textLength="11.81" lengthAdjust="spacingAndGlyphs"  stroke="#231f20" stroke-width="0.1">HF</text>
<line x1="516.3" y1="382.80" x2="519.4" y2="382.80" stroke="#8a8a8a" stroke-width="1"/>
<rect x="527" y="414.30" width="6.90" height="14.9" fill="#7dc77f"/>
<rect x="527" y="431.00" width="125.45" height="14.9" fill="#bcaed5"/>
<rect x="527" y="447.60" width="150.02" height="14.9" fill="#2c6530"/>
<text x="512.70" y="441.40" font-size="8.6" text-anchor="end" fill="#231f20" font-weight="normal" textLength="18.70" lengthAdjust="spacingAndGlyphs"  stroke="#231f20" stroke-width="0.1">CAD</text>
<line x1="516.3" y1="438.30" x2="519.4" y2="438.30" stroke="#8a8a8a" stroke-width="1"/>
<rect x="527" y="469.80" width="1.83" height="14.9" fill="#7dc77f"/>
<rect x="527" y="486.50" width="14.62" height="14.9" fill="#bcaed5"/>
<rect x="527" y="503.10" width="11.57" height="14.9" fill="#2c6530"/>
<text x="512.70" y="496.90" font-size="8.6" text-anchor="end" fill="#231f20" font-weight="normal" textLength="25.60" lengthAdjust="spacingAndGlyphs"  stroke="#231f20" stroke-width="0.1">Stroke</text>
<line x1="516.3" y1="493.80" x2="519.4" y2="493.80" stroke="#8a8a8a" stroke-width="1"/>
<rect x="527" y="525.30" width="1.22" height="14.9" fill="#7dc77f"/>
<rect x="527" y="542.00" width="8.93" height="14.9" fill="#bcaed5"/>
<rect x="527" y="558.60" width="7.51" height="14.9" fill="#2c6530"/>
<text x="512.70" y="552.40" font-size="8.6" text-anchor="end" fill="#231f20" font-weight="normal" textLength="11.32" lengthAdjust="spacingAndGlyphs"  stroke="#231f20" stroke-width="0.1">AF</text>
<line x1="516.3" y1="549.30" x2="519.4" y2="549.30" stroke="#8a8a8a" stroke-width="1"/>
<rect x="527" y="580.80" width="84.25" height="14.9" fill="#7dc77f"/>
<rect x="527" y="597.50" width="27.61" height="14.9" fill="#bcaed5"/>
<rect x="527" y="614.10" width="2.64" height="14.9" fill="#2c6530"/>
<text x="512.70" y="607.90" font-size="8.6" text-anchor="end" fill="#231f20" font-weight="normal" textLength="20.17" lengthAdjust="spacingAndGlyphs"  stroke="#231f20" stroke-width="0.1">MDD</text>
<line x1="516.3" y1="604.80" x2="519.4" y2="604.80" stroke="#8a8a8a" stroke-width="1"/>
<line x1="519.4" y1="294.4" x2="519.4" y2="637.9" stroke="#8a8a8a" stroke-width="1"/>
<line x1="519" y1="637.4" x2="685" y2="637.4" stroke="#8a8a8a" stroke-width="1"/>
<line x1="527.00" y1="637.4" x2="527.00" y2="640.5" stroke="#8a8a8a" stroke-width="1"/>
<text x="527.00" y="650.50" font-size="8" text-anchor="middle" fill="#231f20" font-weight="normal"  stroke="#231f20" stroke-width="0.1">0</text>
<line x1="567.60" y1="637.4" x2="567.60" y2="640.5" stroke="#8a8a8a" stroke-width="1"/>
<text x="567.60" y="650.50" font-size="8" text-anchor="middle" fill="#231f20" font-weight="normal"  stroke="#231f20" stroke-width="0.1">0.02</text>
<line x1="608.20" y1="637.4" x2="608.20" y2="640.5" stroke="#8a8a8a" stroke-width="1"/>
<text x="608.20" y="650.50" font-size="8" text-anchor="middle" fill="#231f20" font-weight="normal"  stroke="#231f20" stroke-width="0.1">0.04</text>
<line x1="648.80" y1="637.4" x2="648.80" y2="640.5" stroke="#8a8a8a" stroke-width="1"/>
<text x="648.80" y="650.50" font-size="8" text-anchor="middle" fill="#231f20" font-weight="normal"  stroke="#231f20" stroke-width="0.1">0.06</text>
<text x="601" y="665" font-size="8.4" fill="#231f20" text-anchor="middle" font-style="italic">R<tspan font-size="5.5" dy="-3" font-style="normal">2</tspan></text>
<text x="614.60" y="341.60" font-size="8.4" text-anchor="start" fill="#231f20" font-weight="normal" textLength="16.06" lengthAdjust="spacingAndGlyphs"  stroke="#231f20" stroke-width="0.1">PRS</text>
<rect x="615.1" y="347.10" width="7.9" height="7.4" fill="#7dc77f"/>
<text x="627.50" y="353.80" font-size="8.4" text-anchor="start" fill="#231f20" font-weight="normal"  stroke="#231f20" stroke-width="0.1">MDD</text>
<rect x="615.1" y="360.10" width="7.9" height="7.4" fill="#bcaed5"/>
<text x="627.50" y="366.80" font-size="8.4" text-anchor="start" fill="#231f20" font-weight="normal"  stroke="#231f20" stroke-width="0.1">MDD–ASCVD</text>
<rect x="615.1" y="373.20" width="7.9" height="7.4" fill="#2c6530"/>
<text x="627.50" y="379.90" font-size="8.4" text-anchor="start" fill="#231f20" font-weight="normal"  stroke="#231f20" stroke-width="0.1">ASCVD</text>
</svg></body></html>
